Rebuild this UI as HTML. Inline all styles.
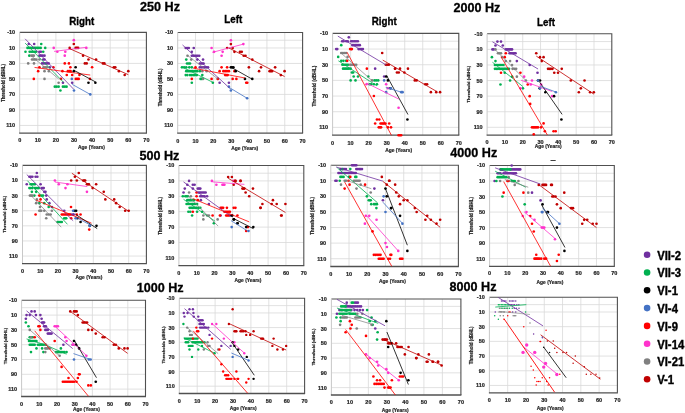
<!DOCTYPE html><html><head><meta charset="utf-8"><style>html,body{margin:0;padding:0;background:#fff;}svg{display:block;will-change:transform;font-family:"Liberation Sans",sans-serif;}</style></head><body>
<svg width="685" height="413" viewBox="0 0 685 413">
<rect width="685" height="413" fill="#fff"/>
<line x1="19.7" y1="40.15" x2="146.4" y2="40.15" stroke="#d9d9d9" stroke-width="0.8"/>
<line x1="19.7" y1="47.91" x2="146.4" y2="47.91" stroke="#d9d9d9" stroke-width="0.8"/>
<line x1="19.7" y1="63.42" x2="146.4" y2="63.42" stroke="#d9d9d9" stroke-width="0.8"/>
<line x1="19.7" y1="78.92" x2="146.4" y2="78.92" stroke="#d9d9d9" stroke-width="0.8"/>
<line x1="19.7" y1="94.43" x2="146.4" y2="94.43" stroke="#d9d9d9" stroke-width="0.8"/>
<line x1="19.7" y1="109.94" x2="146.4" y2="109.94" stroke="#d9d9d9" stroke-width="0.8"/>
<line x1="19.7" y1="125.45" x2="146.4" y2="125.45" stroke="#d9d9d9" stroke-width="0.8"/>
<line x1="37.8" y1="32.4" x2="37.8" y2="133.2" stroke="#d9d9d9" stroke-width="0.8"/>
<line x1="55.9" y1="32.4" x2="55.9" y2="133.2" stroke="#d9d9d9" stroke-width="0.8"/>
<line x1="74" y1="32.4" x2="74" y2="133.2" stroke="#d9d9d9" stroke-width="0.8"/>
<line x1="92.1" y1="32.4" x2="92.1" y2="133.2" stroke="#d9d9d9" stroke-width="0.8"/>
<line x1="110.2" y1="32.4" x2="110.2" y2="133.2" stroke="#d9d9d9" stroke-width="0.8"/>
<line x1="128.3" y1="32.4" x2="128.3" y2="133.2" stroke="#d9d9d9" stroke-width="0.8"/>
<path d="M19.7 32.4H146.4V133.2" fill="none" stroke="#505050" stroke-width="1.1"/>
<line x1="19.7" y1="32.4" x2="19.7" y2="133.2" stroke="#c8c8c8" stroke-width="1"/>
<line x1="19.2" y1="133.2" x2="146.9" y2="133.2" stroke="#505050" stroke-width="1.3"/>
<clipPath id="c1R"><rect x="19.7" y="32.4" width="126.7" height="100.8"/></clipPath>
<circle cx="28.75" cy="44.03" r="1.32" fill="#7030A0"/>
<circle cx="34.18" cy="44.03" r="1.32" fill="#7030A0"/>
<circle cx="39.43" cy="51.78" r="1.32" fill="#7030A0"/>
<circle cx="40.88" cy="51.78" r="1.32" fill="#7030A0"/>
<circle cx="39.43" cy="55.66" r="1.32" fill="#7030A0"/>
<circle cx="41.06" cy="55.66" r="1.32" fill="#7030A0"/>
<circle cx="42.69" cy="55.66" r="1.32" fill="#7030A0"/>
<circle cx="44.5" cy="55.66" r="1.32" fill="#7030A0"/>
<circle cx="43.23" cy="59.54" r="1.32" fill="#7030A0"/>
<circle cx="44.5" cy="59.54" r="1.32" fill="#7030A0"/>
<circle cx="42.14" cy="63.42" r="1.32" fill="#7030A0"/>
<circle cx="43.77" cy="63.42" r="1.32" fill="#7030A0"/>
<circle cx="45.4" cy="63.42" r="1.32" fill="#7030A0"/>
<circle cx="47.03" cy="63.42" r="1.32" fill="#7030A0"/>
<circle cx="48.66" cy="63.42" r="1.32" fill="#7030A0"/>
<circle cx="49.75" cy="67.29" r="1.32" fill="#7030A0"/>
<circle cx="62.96" cy="82.8" r="1.32" fill="#7030A0"/>
<circle cx="72.19" cy="82.8" r="1.32" fill="#7030A0"/>
<circle cx="41.24" cy="44.03" r="1.32" fill="#00B050"/>
<circle cx="27.48" cy="47.91" r="1.32" fill="#00B050"/>
<circle cx="29.11" cy="47.91" r="1.32" fill="#00B050"/>
<circle cx="30.74" cy="47.91" r="1.32" fill="#00B050"/>
<circle cx="32.37" cy="47.91" r="1.32" fill="#00B050"/>
<circle cx="34" cy="47.91" r="1.32" fill="#00B050"/>
<circle cx="35.63" cy="47.91" r="1.32" fill="#00B050"/>
<circle cx="37.26" cy="47.91" r="1.32" fill="#00B050"/>
<circle cx="38.89" cy="47.91" r="1.32" fill="#00B050"/>
<circle cx="40.7" cy="47.91" r="1.32" fill="#00B050"/>
<circle cx="45.22" cy="47.91" r="1.32" fill="#00B050"/>
<circle cx="25.49" cy="51.78" r="1.32" fill="#00B050"/>
<circle cx="29.66" cy="51.78" r="1.32" fill="#00B050"/>
<circle cx="31.28" cy="51.78" r="1.32" fill="#00B050"/>
<circle cx="32.91" cy="51.78" r="1.32" fill="#00B050"/>
<circle cx="34.54" cy="51.78" r="1.32" fill="#00B050"/>
<circle cx="35.99" cy="51.78" r="1.32" fill="#00B050"/>
<circle cx="43.23" cy="51.78" r="1.32" fill="#00B050"/>
<circle cx="29.29" cy="55.66" r="1.32" fill="#00B050"/>
<circle cx="54.81" cy="86.68" r="1.32" fill="#00B050"/>
<circle cx="56.62" cy="86.68" r="1.32" fill="#00B050"/>
<circle cx="58.61" cy="86.68" r="1.32" fill="#00B050"/>
<circle cx="62.96" cy="86.68" r="1.32" fill="#00B050"/>
<circle cx="64.77" cy="86.68" r="1.32" fill="#00B050"/>
<circle cx="66.58" cy="86.68" r="1.32" fill="#00B050"/>
<circle cx="60.42" cy="90.55" r="1.32" fill="#00B050"/>
<circle cx="31.46" cy="55.66" r="1.32" fill="#808080"/>
<circle cx="32.73" cy="55.66" r="1.32" fill="#808080"/>
<circle cx="33.82" cy="55.66" r="1.32" fill="#808080"/>
<circle cx="32.01" cy="59.54" r="1.32" fill="#808080"/>
<circle cx="33.46" cy="59.54" r="1.32" fill="#808080"/>
<circle cx="34.9" cy="59.54" r="1.32" fill="#808080"/>
<circle cx="36.35" cy="59.54" r="1.32" fill="#808080"/>
<circle cx="39.43" cy="59.54" r="1.32" fill="#808080"/>
<circle cx="28.21" cy="63.42" r="1.32" fill="#808080"/>
<circle cx="34" cy="63.42" r="1.32" fill="#808080"/>
<circle cx="43.59" cy="67.29" r="1.32" fill="#808080"/>
<circle cx="45.22" cy="67.29" r="1.32" fill="#808080"/>
<circle cx="46.85" cy="67.29" r="1.32" fill="#808080"/>
<circle cx="44.5" cy="71.17" r="1.32" fill="#808080"/>
<circle cx="48.84" cy="71.17" r="1.32" fill="#808080"/>
<circle cx="44.5" cy="78.92" r="1.32" fill="#808080"/>
<circle cx="58.61" cy="82.8" r="1.32" fill="#808080"/>
<circle cx="73.82" cy="40.15" r="1.32" fill="#FF33CC"/>
<circle cx="53.73" cy="47.91" r="1.32" fill="#FF33CC"/>
<circle cx="86.31" cy="47.91" r="1.32" fill="#FF33CC"/>
<circle cx="57.35" cy="51.78" r="1.32" fill="#FF33CC"/>
<circle cx="65.31" cy="51.78" r="1.32" fill="#FF33CC"/>
<circle cx="64.77" cy="55.66" r="1.32" fill="#FF33CC"/>
<circle cx="73.82" cy="44.03" r="1.32" fill="#C00000"/>
<circle cx="69.66" cy="47.91" r="1.32" fill="#C00000"/>
<circle cx="75.63" cy="47.91" r="1.32" fill="#C00000"/>
<circle cx="76.9" cy="47.91" r="1.32" fill="#C00000"/>
<circle cx="78.16" cy="47.91" r="1.32" fill="#C00000"/>
<circle cx="83.05" cy="55.66" r="1.32" fill="#C00000"/>
<circle cx="88.48" cy="59.54" r="1.32" fill="#C00000"/>
<circle cx="96.08" cy="59.54" r="1.32" fill="#C00000"/>
<circle cx="84.86" cy="63.42" r="1.32" fill="#C00000"/>
<circle cx="86.67" cy="63.42" r="1.32" fill="#C00000"/>
<circle cx="102.96" cy="63.42" r="1.32" fill="#C00000"/>
<circle cx="104.41" cy="63.42" r="1.32" fill="#C00000"/>
<circle cx="113.82" cy="67.29" r="1.32" fill="#C00000"/>
<circle cx="115.27" cy="67.29" r="1.32" fill="#C00000"/>
<circle cx="118.89" cy="71.17" r="1.32" fill="#C00000"/>
<circle cx="128.3" cy="71.17" r="1.32" fill="#C00000"/>
<circle cx="124.68" cy="75.05" r="1.32" fill="#C00000"/>
<circle cx="64.77" cy="63.42" r="1.32" fill="#FF0000"/>
<circle cx="68.93" cy="63.42" r="1.32" fill="#FF0000"/>
<circle cx="39.43" cy="67.29" r="1.32" fill="#FF0000"/>
<circle cx="53.37" cy="67.29" r="1.32" fill="#FF0000"/>
<circle cx="70.38" cy="67.29" r="1.32" fill="#FF0000"/>
<circle cx="92.1" cy="67.29" r="1.32" fill="#FF0000"/>
<circle cx="38.16" cy="71.17" r="1.32" fill="#FF0000"/>
<circle cx="62.42" cy="71.17" r="1.32" fill="#FF0000"/>
<circle cx="67.85" cy="71.17" r="1.32" fill="#FF0000"/>
<circle cx="69.29" cy="71.17" r="1.32" fill="#FF0000"/>
<circle cx="70.56" cy="71.17" r="1.32" fill="#FF0000"/>
<circle cx="66.76" cy="75.05" r="1.32" fill="#FF0000"/>
<circle cx="72.19" cy="75.05" r="1.32" fill="#FF0000"/>
<circle cx="79.43" cy="75.05" r="1.32" fill="#FF0000"/>
<circle cx="33.82" cy="78.92" r="1.32" fill="#FF0000"/>
<circle cx="60.97" cy="78.92" r="1.32" fill="#FF0000"/>
<circle cx="75.81" cy="78.92" r="1.32" fill="#FF0000"/>
<circle cx="77.26" cy="78.92" r="1.32" fill="#FF0000"/>
<circle cx="78.71" cy="78.92" r="1.32" fill="#FF0000"/>
<circle cx="89.93" cy="78.92" r="1.32" fill="#FF0000"/>
<circle cx="75.63" cy="67.29" r="1.32" fill="#000000"/>
<circle cx="73.82" cy="71.17" r="1.32" fill="#000000"/>
<circle cx="88.48" cy="82.8" r="1.32" fill="#000000"/>
<circle cx="95.36" cy="82.8" r="1.32" fill="#000000"/>
<circle cx="71.83" cy="78.92" r="1.32" fill="#4472C4"/>
<circle cx="74" cy="90.55" r="1.32" fill="#4472C4"/>
<circle cx="90.29" cy="94.43" r="1.32" fill="#4472C4"/>
<g clip-path="url(#c1R)">
<line x1="25.13" y1="38.84" x2="73.46" y2="89" stroke="#7030A0" stroke-width="0.8"/>
<line x1="25.13" y1="43.1" x2="63.5" y2="82.26" stroke="#00B050" stroke-width="0.8"/>
<line x1="29.66" y1="54.5" x2="58.61" y2="78.92" stroke="#808080" stroke-width="0.7"/>
<line x1="54.09" y1="51.4" x2="86.67" y2="47.29" stroke="#FF33CC" stroke-width="0.8"/>
<line x1="69.66" y1="48.68" x2="128.3" y2="74.66" stroke="#C00000" stroke-width="0.8"/>
<line x1="34.54" y1="67.45" x2="90.29" y2="75.05" stroke="#FF0000" stroke-width="0.8"/>
<line x1="73.82" y1="70.24" x2="95.72" y2="82.02" stroke="#000000" stroke-width="0.8"/>
<line x1="72.19" y1="84.35" x2="90.29" y2="94.43" stroke="#4472C4" stroke-width="0.8"/>
</g>
<text x="15.1" y="34.38" font-size="5.5" font-weight="bold" fill="#262626" stroke="#262626" stroke-width="0.22" text-anchor="end">-10</text>
<text x="15.1" y="49.89" font-size="5.5" font-weight="bold" fill="#262626" stroke="#262626" stroke-width="0.22" text-anchor="end">10</text>
<text x="15.1" y="65.4" font-size="5.5" font-weight="bold" fill="#262626" stroke="#262626" stroke-width="0.22" text-anchor="end">30</text>
<text x="15.1" y="80.9" font-size="5.5" font-weight="bold" fill="#262626" stroke="#262626" stroke-width="0.22" text-anchor="end">50</text>
<text x="15.1" y="96.41" font-size="5.5" font-weight="bold" fill="#262626" stroke="#262626" stroke-width="0.22" text-anchor="end">70</text>
<text x="15.1" y="111.92" font-size="5.5" font-weight="bold" fill="#262626" stroke="#262626" stroke-width="0.22" text-anchor="end">90</text>
<text x="15.1" y="127.43" font-size="5.5" font-weight="bold" fill="#262626" stroke="#262626" stroke-width="0.22" text-anchor="end">110</text>
<text x="19.7" y="142.28" font-size="5.5" font-weight="bold" fill="#262626" stroke="#262626" stroke-width="0.22" text-anchor="middle">0</text>
<text x="37.8" y="142.28" font-size="5.5" font-weight="bold" fill="#262626" stroke="#262626" stroke-width="0.22" text-anchor="middle">10</text>
<text x="55.9" y="142.28" font-size="5.5" font-weight="bold" fill="#262626" stroke="#262626" stroke-width="0.22" text-anchor="middle">20</text>
<text x="74" y="142.28" font-size="5.5" font-weight="bold" fill="#262626" stroke="#262626" stroke-width="0.22" text-anchor="middle">30</text>
<text x="92.1" y="142.28" font-size="5.5" font-weight="bold" fill="#262626" stroke="#262626" stroke-width="0.22" text-anchor="middle">40</text>
<text x="110.2" y="142.28" font-size="5.5" font-weight="bold" fill="#262626" stroke="#262626" stroke-width="0.22" text-anchor="middle">50</text>
<text x="128.3" y="142.28" font-size="5.5" font-weight="bold" fill="#262626" stroke="#262626" stroke-width="0.22" text-anchor="middle">60</text>
<text x="146.4" y="142.28" font-size="5.5" font-weight="bold" fill="#262626" stroke="#262626" stroke-width="0.22" text-anchor="middle">70</text>
<text x="91.5" y="149.15" font-size="4.9" font-weight="bold" fill="#262626" stroke="#262626" stroke-width="0.2" text-anchor="middle">Age (Years)</text>
<text transform="translate(4.52 83.1) rotate(-90)" font-size="4.5" font-weight="bold" fill="#262626" stroke="#262626" stroke-width="0.2" text-anchor="middle">Threshold (dBHL)</text>
<line x1="177.7" y1="40.24" x2="302.6" y2="40.24" stroke="#d9d9d9" stroke-width="0.8"/>
<line x1="177.7" y1="47.98" x2="302.6" y2="47.98" stroke="#d9d9d9" stroke-width="0.8"/>
<line x1="177.7" y1="63.45" x2="302.6" y2="63.45" stroke="#d9d9d9" stroke-width="0.8"/>
<line x1="177.7" y1="78.93" x2="302.6" y2="78.93" stroke="#d9d9d9" stroke-width="0.8"/>
<line x1="177.7" y1="94.41" x2="302.6" y2="94.41" stroke="#d9d9d9" stroke-width="0.8"/>
<line x1="177.7" y1="109.88" x2="302.6" y2="109.88" stroke="#d9d9d9" stroke-width="0.8"/>
<line x1="177.7" y1="125.36" x2="302.6" y2="125.36" stroke="#d9d9d9" stroke-width="0.8"/>
<line x1="195.54" y1="32.5" x2="195.54" y2="133.1" stroke="#d9d9d9" stroke-width="0.8"/>
<line x1="213.39" y1="32.5" x2="213.39" y2="133.1" stroke="#d9d9d9" stroke-width="0.8"/>
<line x1="231.23" y1="32.5" x2="231.23" y2="133.1" stroke="#d9d9d9" stroke-width="0.8"/>
<line x1="249.07" y1="32.5" x2="249.07" y2="133.1" stroke="#d9d9d9" stroke-width="0.8"/>
<line x1="266.91" y1="32.5" x2="266.91" y2="133.1" stroke="#d9d9d9" stroke-width="0.8"/>
<line x1="284.76" y1="32.5" x2="284.76" y2="133.1" stroke="#d9d9d9" stroke-width="0.8"/>
<path d="M177.7 32.5H302.6V133.1" fill="none" stroke="#505050" stroke-width="1.1"/>
<line x1="177.7" y1="32.5" x2="177.7" y2="133.1" stroke="#c8c8c8" stroke-width="1"/>
<line x1="177.2" y1="133.1" x2="303.1" y2="133.1" stroke="#505050" stroke-width="1.3"/>
<clipPath id="c1L"><rect x="177.7" y="32.5" width="124.9" height="100.6"/></clipPath>
<circle cx="185.73" cy="47.98" r="1.32" fill="#7030A0"/>
<circle cx="187.16" cy="47.98" r="1.32" fill="#7030A0"/>
<circle cx="188.76" cy="47.98" r="1.32" fill="#7030A0"/>
<circle cx="193.76" cy="47.98" r="1.32" fill="#7030A0"/>
<circle cx="191.8" cy="51.85" r="1.32" fill="#7030A0"/>
<circle cx="191.8" cy="55.72" r="1.32" fill="#7030A0"/>
<circle cx="193.4" cy="55.72" r="1.32" fill="#7030A0"/>
<circle cx="194.83" cy="55.72" r="1.32" fill="#7030A0"/>
<circle cx="196.26" cy="55.72" r="1.32" fill="#7030A0"/>
<circle cx="197.68" cy="55.72" r="1.32" fill="#7030A0"/>
<circle cx="199.29" cy="55.72" r="1.32" fill="#7030A0"/>
<circle cx="197.33" cy="59.58" r="1.32" fill="#7030A0"/>
<circle cx="203.04" cy="59.58" r="1.32" fill="#7030A0"/>
<circle cx="199.83" cy="63.45" r="1.32" fill="#7030A0"/>
<circle cx="201.25" cy="63.45" r="1.32" fill="#7030A0"/>
<circle cx="202.68" cy="63.45" r="1.32" fill="#7030A0"/>
<circle cx="203.57" cy="63.45" r="1.32" fill="#7030A0"/>
<circle cx="199.83" cy="67.32" r="1.32" fill="#7030A0"/>
<circle cx="201.43" cy="67.32" r="1.32" fill="#7030A0"/>
<circle cx="203.04" cy="67.32" r="1.32" fill="#7030A0"/>
<circle cx="204.64" cy="67.32" r="1.32" fill="#7030A0"/>
<circle cx="206.25" cy="67.32" r="1.32" fill="#7030A0"/>
<circle cx="208.03" cy="67.32" r="1.32" fill="#7030A0"/>
<circle cx="219.63" cy="82.8" r="1.32" fill="#7030A0"/>
<circle cx="228.91" cy="82.8" r="1.32" fill="#7030A0"/>
<circle cx="186.26" cy="59.58" r="1.32" fill="#00B050"/>
<circle cx="186.98" cy="63.45" r="1.32" fill="#00B050"/>
<circle cx="188.58" cy="63.45" r="1.32" fill="#00B050"/>
<circle cx="190.01" cy="63.45" r="1.32" fill="#00B050"/>
<circle cx="181.98" cy="67.32" r="1.32" fill="#00B050"/>
<circle cx="184.12" cy="67.32" r="1.32" fill="#00B050"/>
<circle cx="186.26" cy="67.32" r="1.32" fill="#00B050"/>
<circle cx="189.3" cy="67.32" r="1.32" fill="#00B050"/>
<circle cx="191.8" cy="67.32" r="1.32" fill="#00B050"/>
<circle cx="186.26" cy="71.19" r="1.32" fill="#00B050"/>
<circle cx="187.87" cy="71.19" r="1.32" fill="#00B050"/>
<circle cx="189.48" cy="71.19" r="1.32" fill="#00B050"/>
<circle cx="191.08" cy="71.19" r="1.32" fill="#00B050"/>
<circle cx="192.69" cy="71.19" r="1.32" fill="#00B050"/>
<circle cx="194.29" cy="71.19" r="1.32" fill="#00B050"/>
<circle cx="195.9" cy="71.19" r="1.32" fill="#00B050"/>
<circle cx="197.33" cy="71.19" r="1.32" fill="#00B050"/>
<circle cx="199.83" cy="71.19" r="1.32" fill="#00B050"/>
<circle cx="185.73" cy="75.06" r="1.32" fill="#00B050"/>
<circle cx="187.34" cy="75.06" r="1.32" fill="#00B050"/>
<circle cx="190.01" cy="75.06" r="1.32" fill="#00B050"/>
<circle cx="191.62" cy="75.06" r="1.32" fill="#00B050"/>
<circle cx="193.22" cy="75.06" r="1.32" fill="#00B050"/>
<circle cx="194.83" cy="75.06" r="1.32" fill="#00B050"/>
<circle cx="196.79" cy="75.06" r="1.32" fill="#00B050"/>
<circle cx="202.32" cy="75.06" r="1.32" fill="#00B050"/>
<circle cx="200.54" cy="78.93" r="1.32" fill="#00B050"/>
<circle cx="201.79" cy="78.93" r="1.32" fill="#00B050"/>
<circle cx="191.8" cy="82.8" r="1.32" fill="#00B050"/>
<circle cx="212.85" cy="82.8" r="1.32" fill="#00B050"/>
<circle cx="187.51" cy="55.72" r="1.32" fill="#808080"/>
<circle cx="191.26" cy="59.58" r="1.32" fill="#808080"/>
<circle cx="202.32" cy="71.19" r="1.32" fill="#808080"/>
<circle cx="206.61" cy="71.19" r="1.32" fill="#808080"/>
<circle cx="203.04" cy="78.93" r="1.32" fill="#808080"/>
<circle cx="217.85" cy="78.93" r="1.32" fill="#808080"/>
<circle cx="230.87" cy="40.24" r="1.32" fill="#FF33CC"/>
<circle cx="211.6" cy="47.98" r="1.32" fill="#FF33CC"/>
<circle cx="214.1" cy="51.85" r="1.32" fill="#FF33CC"/>
<circle cx="222.66" cy="51.85" r="1.32" fill="#FF33CC"/>
<circle cx="221.59" cy="55.72" r="1.32" fill="#FF33CC"/>
<circle cx="243.36" cy="44.11" r="1.32" fill="#FF33CC"/>
<circle cx="230.87" cy="44.11" r="1.32" fill="#C00000"/>
<circle cx="227.12" cy="47.98" r="1.32" fill="#C00000"/>
<circle cx="232.66" cy="47.98" r="1.32" fill="#C00000"/>
<circle cx="234.44" cy="51.85" r="1.32" fill="#C00000"/>
<circle cx="239.97" cy="51.85" r="1.32" fill="#C00000"/>
<circle cx="241.76" cy="51.85" r="1.32" fill="#C00000"/>
<circle cx="243.72" cy="55.72" r="1.32" fill="#C00000"/>
<circle cx="245.5" cy="55.72" r="1.32" fill="#C00000"/>
<circle cx="252.28" cy="59.58" r="1.32" fill="#C00000"/>
<circle cx="248.89" cy="67.32" r="1.32" fill="#C00000"/>
<circle cx="261.03" cy="67.32" r="1.32" fill="#C00000"/>
<circle cx="275.12" cy="67.32" r="1.32" fill="#C00000"/>
<circle cx="259.06" cy="71.19" r="1.32" fill="#C00000"/>
<circle cx="269.59" cy="71.19" r="1.32" fill="#C00000"/>
<circle cx="270.84" cy="71.19" r="1.32" fill="#C00000"/>
<circle cx="272.09" cy="71.19" r="1.32" fill="#C00000"/>
<circle cx="284.58" cy="71.19" r="1.32" fill="#C00000"/>
<circle cx="280.83" cy="75.06" r="1.32" fill="#C00000"/>
<circle cx="195.54" cy="67.32" r="1.32" fill="#FF0000"/>
<circle cx="221.59" cy="67.32" r="1.32" fill="#FF0000"/>
<circle cx="227.12" cy="67.32" r="1.32" fill="#FF0000"/>
<circle cx="219.63" cy="71.19" r="1.32" fill="#FF0000"/>
<circle cx="223.38" cy="71.19" r="1.32" fill="#FF0000"/>
<circle cx="225.16" cy="71.19" r="1.32" fill="#FF0000"/>
<circle cx="226.95" cy="71.19" r="1.32" fill="#FF0000"/>
<circle cx="228.91" cy="71.19" r="1.32" fill="#FF0000"/>
<circle cx="234.44" cy="71.19" r="1.32" fill="#FF0000"/>
<circle cx="225.16" cy="75.06" r="1.32" fill="#FF0000"/>
<circle cx="226.41" cy="75.06" r="1.32" fill="#FF0000"/>
<circle cx="227.66" cy="75.06" r="1.32" fill="#FF0000"/>
<circle cx="191.8" cy="78.93" r="1.32" fill="#FF0000"/>
<circle cx="211.6" cy="78.93" r="1.32" fill="#FF0000"/>
<circle cx="217.85" cy="78.93" r="1.32" fill="#FF0000"/>
<circle cx="232.66" cy="78.93" r="1.32" fill="#FF0000"/>
<circle cx="236.4" cy="78.93" r="1.32" fill="#FF0000"/>
<circle cx="246.22" cy="82.8" r="1.32" fill="#FF0000"/>
<circle cx="247.29" cy="82.8" r="1.32" fill="#FF0000"/>
<circle cx="230.87" cy="67.32" r="1.32" fill="#000000"/>
<circle cx="232.12" cy="67.32" r="1.32" fill="#000000"/>
<circle cx="233.37" cy="67.32" r="1.32" fill="#000000"/>
<circle cx="235.69" cy="71.19" r="1.32" fill="#000000"/>
<circle cx="244.97" cy="78.93" r="1.32" fill="#000000"/>
<circle cx="252.28" cy="78.93" r="1.32" fill="#000000"/>
<circle cx="228.91" cy="86.67" r="1.32" fill="#4472C4"/>
<circle cx="230.87" cy="90.54" r="1.32" fill="#4472C4"/>
<circle cx="247.11" cy="98.28" r="1.32" fill="#4472C4"/>
<g clip-path="url(#c1L)">
<line x1="182.52" y1="44.96" x2="230.16" y2="88.6" stroke="#7030A0" stroke-width="0.8"/>
<line x1="181.98" y1="66.94" x2="212.85" y2="82.34" stroke="#00B050" stroke-width="0.8"/>
<line x1="186.98" y1="54.94" x2="217.85" y2="78.93" stroke="#808080" stroke-width="0.7"/>
<line x1="212.32" y1="52.39" x2="243.36" y2="44.11" stroke="#FF33CC" stroke-width="0.8"/>
<line x1="228.91" y1="47.98" x2="284.58" y2="76.53" stroke="#C00000" stroke-width="0.8"/>
<line x1="193.04" y1="68.1" x2="244.97" y2="78" stroke="#FF0000" stroke-width="0.8"/>
<line x1="231.23" y1="67.32" x2="253" y2="79.63" stroke="#000000" stroke-width="0.8"/>
<line x1="228.91" y1="87.29" x2="247.11" y2="98.28" stroke="#4472C4" stroke-width="0.8"/>
</g>
<text x="173.1" y="34.48" font-size="5.5" font-weight="bold" fill="#262626" stroke="#262626" stroke-width="0.22" text-anchor="end">-10</text>
<text x="173.1" y="49.96" font-size="5.5" font-weight="bold" fill="#262626" stroke="#262626" stroke-width="0.22" text-anchor="end">10</text>
<text x="173.1" y="65.43" font-size="5.5" font-weight="bold" fill="#262626" stroke="#262626" stroke-width="0.22" text-anchor="end">30</text>
<text x="173.1" y="80.91" font-size="5.5" font-weight="bold" fill="#262626" stroke="#262626" stroke-width="0.22" text-anchor="end">50</text>
<text x="173.1" y="96.39" font-size="5.5" font-weight="bold" fill="#262626" stroke="#262626" stroke-width="0.22" text-anchor="end">70</text>
<text x="173.1" y="111.86" font-size="5.5" font-weight="bold" fill="#262626" stroke="#262626" stroke-width="0.22" text-anchor="end">90</text>
<text x="173.1" y="127.34" font-size="5.5" font-weight="bold" fill="#262626" stroke="#262626" stroke-width="0.22" text-anchor="end">110</text>
<text x="177.7" y="142.58" font-size="5.5" font-weight="bold" fill="#262626" stroke="#262626" stroke-width="0.22" text-anchor="middle">0</text>
<text x="195.54" y="142.58" font-size="5.5" font-weight="bold" fill="#262626" stroke="#262626" stroke-width="0.22" text-anchor="middle">10</text>
<text x="213.39" y="142.58" font-size="5.5" font-weight="bold" fill="#262626" stroke="#262626" stroke-width="0.22" text-anchor="middle">20</text>
<text x="231.23" y="142.58" font-size="5.5" font-weight="bold" fill="#262626" stroke="#262626" stroke-width="0.22" text-anchor="middle">30</text>
<text x="249.07" y="142.58" font-size="5.5" font-weight="bold" fill="#262626" stroke="#262626" stroke-width="0.22" text-anchor="middle">40</text>
<text x="266.91" y="142.58" font-size="5.5" font-weight="bold" fill="#262626" stroke="#262626" stroke-width="0.22" text-anchor="middle">50</text>
<text x="284.76" y="142.58" font-size="5.5" font-weight="bold" fill="#262626" stroke="#262626" stroke-width="0.22" text-anchor="middle">60</text>
<text x="302.6" y="142.58" font-size="5.5" font-weight="bold" fill="#262626" stroke="#262626" stroke-width="0.22" text-anchor="middle">70</text>
<text x="244.8" y="150.15" font-size="4.9" font-weight="bold" fill="#262626" stroke="#262626" stroke-width="0.2" text-anchor="middle">Age (Years)</text>
<text transform="translate(161.62 87.4) rotate(-90)" font-size="4.49" font-weight="bold" fill="#262626" stroke="#262626" stroke-width="0.2" text-anchor="middle">Threshold (dBHL)</text>
<line x1="332.6" y1="41.23" x2="458.8" y2="41.23" stroke="#d9d9d9" stroke-width="0.8"/>
<line x1="332.6" y1="49.06" x2="458.8" y2="49.06" stroke="#d9d9d9" stroke-width="0.8"/>
<line x1="332.6" y1="64.72" x2="458.8" y2="64.72" stroke="#d9d9d9" stroke-width="0.8"/>
<line x1="332.6" y1="80.38" x2="458.8" y2="80.38" stroke="#d9d9d9" stroke-width="0.8"/>
<line x1="332.6" y1="96.05" x2="458.8" y2="96.05" stroke="#d9d9d9" stroke-width="0.8"/>
<line x1="332.6" y1="111.71" x2="458.8" y2="111.71" stroke="#d9d9d9" stroke-width="0.8"/>
<line x1="332.6" y1="127.37" x2="458.8" y2="127.37" stroke="#d9d9d9" stroke-width="0.8"/>
<line x1="350.63" y1="33.4" x2="350.63" y2="135.2" stroke="#d9d9d9" stroke-width="0.8"/>
<line x1="368.66" y1="33.4" x2="368.66" y2="135.2" stroke="#d9d9d9" stroke-width="0.8"/>
<line x1="386.69" y1="33.4" x2="386.69" y2="135.2" stroke="#d9d9d9" stroke-width="0.8"/>
<line x1="404.71" y1="33.4" x2="404.71" y2="135.2" stroke="#d9d9d9" stroke-width="0.8"/>
<line x1="422.74" y1="33.4" x2="422.74" y2="135.2" stroke="#d9d9d9" stroke-width="0.8"/>
<line x1="440.77" y1="33.4" x2="440.77" y2="135.2" stroke="#d9d9d9" stroke-width="0.8"/>
<path d="M332.6 33.4H458.8V135.2" fill="none" stroke="#505050" stroke-width="1.1"/>
<line x1="332.6" y1="33.4" x2="332.6" y2="135.2" stroke="#c8c8c8" stroke-width="1"/>
<line x1="332.1" y1="135.2" x2="459.3" y2="135.2" stroke="#505050" stroke-width="1.3"/>
<clipPath id="c2kR"><rect x="332.6" y="33.4" width="126.2" height="101.8"/></clipPath>
<circle cx="348.83" cy="37.32" r="1.32" fill="#7030A0"/>
<circle cx="342.16" cy="41.23" r="1.32" fill="#7030A0"/>
<circle cx="343.6" cy="41.23" r="1.32" fill="#7030A0"/>
<circle cx="346.3" cy="41.23" r="1.32" fill="#7030A0"/>
<circle cx="347.74" cy="41.23" r="1.32" fill="#7030A0"/>
<circle cx="351.17" cy="41.23" r="1.32" fill="#7030A0"/>
<circle cx="352.79" cy="41.23" r="1.32" fill="#7030A0"/>
<circle cx="354.41" cy="41.23" r="1.32" fill="#7030A0"/>
<circle cx="356.04" cy="41.23" r="1.32" fill="#7030A0"/>
<circle cx="357.84" cy="41.23" r="1.32" fill="#7030A0"/>
<circle cx="352.43" cy="45.15" r="1.32" fill="#7030A0"/>
<circle cx="353.87" cy="45.15" r="1.32" fill="#7030A0"/>
<circle cx="355.32" cy="45.15" r="1.32" fill="#7030A0"/>
<circle cx="356.76" cy="45.15" r="1.32" fill="#7030A0"/>
<circle cx="358.2" cy="45.15" r="1.32" fill="#7030A0"/>
<circle cx="359.82" cy="45.15" r="1.32" fill="#7030A0"/>
<circle cx="336.21" cy="49.06" r="1.32" fill="#7030A0"/>
<circle cx="337.29" cy="49.06" r="1.32" fill="#7030A0"/>
<circle cx="358.56" cy="49.06" r="1.32" fill="#7030A0"/>
<circle cx="360" cy="49.06" r="1.32" fill="#7030A0"/>
<circle cx="361.45" cy="49.06" r="1.32" fill="#7030A0"/>
<circle cx="362.89" cy="49.06" r="1.32" fill="#7030A0"/>
<circle cx="375.15" cy="68.64" r="1.32" fill="#7030A0"/>
<circle cx="384.16" cy="76.47" r="1.32" fill="#7030A0"/>
<circle cx="341.25" cy="45.15" r="1.32" fill="#00B050"/>
<circle cx="338.19" cy="56.89" r="1.32" fill="#00B050"/>
<circle cx="341.25" cy="60.81" r="1.32" fill="#00B050"/>
<circle cx="343.42" cy="60.81" r="1.32" fill="#00B050"/>
<circle cx="346.12" cy="60.81" r="1.32" fill="#00B050"/>
<circle cx="342.34" cy="64.72" r="1.32" fill="#00B050"/>
<circle cx="343.78" cy="64.72" r="1.32" fill="#00B050"/>
<circle cx="345.22" cy="64.72" r="1.32" fill="#00B050"/>
<circle cx="346.66" cy="64.72" r="1.32" fill="#00B050"/>
<circle cx="348.1" cy="64.72" r="1.32" fill="#00B050"/>
<circle cx="343.06" cy="68.64" r="1.32" fill="#00B050"/>
<circle cx="344.5" cy="68.64" r="1.32" fill="#00B050"/>
<circle cx="345.94" cy="68.64" r="1.32" fill="#00B050"/>
<circle cx="347.38" cy="68.64" r="1.32" fill="#00B050"/>
<circle cx="348.83" cy="68.64" r="1.32" fill="#00B050"/>
<circle cx="350.63" cy="68.64" r="1.32" fill="#00B050"/>
<circle cx="351.89" cy="72.55" r="1.32" fill="#00B050"/>
<circle cx="353.15" cy="72.55" r="1.32" fill="#00B050"/>
<circle cx="353.69" cy="76.47" r="1.32" fill="#00B050"/>
<circle cx="358.02" cy="76.47" r="1.32" fill="#00B050"/>
<circle cx="368.3" cy="76.47" r="1.32" fill="#00B050"/>
<circle cx="350.63" cy="80.38" r="1.32" fill="#00B050"/>
<circle cx="355.5" cy="80.38" r="1.32" fill="#00B050"/>
<circle cx="374.43" cy="80.38" r="1.32" fill="#00B050"/>
<circle cx="376.23" cy="80.38" r="1.32" fill="#00B050"/>
<circle cx="378.21" cy="80.38" r="1.32" fill="#00B050"/>
<circle cx="369.56" cy="84.3" r="1.32" fill="#00B050"/>
<circle cx="371.18" cy="84.3" r="1.32" fill="#00B050"/>
<circle cx="373.89" cy="84.3" r="1.32" fill="#00B050"/>
<circle cx="376.95" cy="84.3" r="1.32" fill="#00B050"/>
<circle cx="341.25" cy="52.98" r="1.32" fill="#808080"/>
<circle cx="342.88" cy="52.98" r="1.32" fill="#808080"/>
<circle cx="344.5" cy="52.98" r="1.32" fill="#808080"/>
<circle cx="346.12" cy="52.98" r="1.32" fill="#808080"/>
<circle cx="347.56" cy="56.89" r="1.32" fill="#808080"/>
<circle cx="350.09" cy="64.72" r="1.32" fill="#808080"/>
<circle cx="351.53" cy="64.72" r="1.32" fill="#808080"/>
<circle cx="352.97" cy="64.72" r="1.32" fill="#808080"/>
<circle cx="354.59" cy="64.72" r="1.32" fill="#808080"/>
<circle cx="356.22" cy="64.72" r="1.32" fill="#808080"/>
<circle cx="372.08" cy="80.38" r="1.32" fill="#808080"/>
<circle cx="350.09" cy="49.06" r="1.32" fill="#FF0000"/>
<circle cx="351.17" cy="49.06" r="1.32" fill="#FF0000"/>
<circle cx="351.89" cy="49.06" r="1.32" fill="#FF0000"/>
<circle cx="347.2" cy="60.81" r="1.32" fill="#FF0000"/>
<circle cx="366.85" cy="68.64" r="1.32" fill="#FF0000"/>
<circle cx="373.89" cy="96.05" r="1.32" fill="#FF0000"/>
<circle cx="376.95" cy="119.54" r="1.32" fill="#FF0000"/>
<circle cx="379.29" cy="119.54" r="1.32" fill="#FF0000"/>
<circle cx="375.15" cy="123.45" r="1.32" fill="#FF0000"/>
<circle cx="380.56" cy="123.45" r="1.32" fill="#FF0000"/>
<circle cx="381.82" cy="123.45" r="1.32" fill="#FF0000"/>
<circle cx="383.08" cy="123.45" r="1.32" fill="#FF0000"/>
<circle cx="384.16" cy="123.45" r="1.32" fill="#FF0000"/>
<circle cx="385.42" cy="123.45" r="1.32" fill="#FF0000"/>
<circle cx="389.21" cy="123.45" r="1.32" fill="#FF0000"/>
<circle cx="378.75" cy="127.37" r="1.32" fill="#FF0000"/>
<circle cx="380.02" cy="127.37" r="1.32" fill="#FF0000"/>
<circle cx="381.1" cy="127.37" r="1.32" fill="#FF0000"/>
<circle cx="387.95" cy="127.37" r="1.32" fill="#FF0000"/>
<circle cx="391.01" cy="127.37" r="1.32" fill="#FF0000"/>
<circle cx="398.58" cy="135.2" r="1.32" fill="#FF0000"/>
<circle cx="399.85" cy="135.2" r="1.32" fill="#FF0000"/>
<circle cx="401.11" cy="135.2" r="1.32" fill="#FF0000"/>
<circle cx="382.18" cy="52.98" r="1.32" fill="#C00000"/>
<circle cx="385.78" cy="64.72" r="1.32" fill="#C00000"/>
<circle cx="387.23" cy="64.72" r="1.32" fill="#C00000"/>
<circle cx="388.85" cy="64.72" r="1.32" fill="#C00000"/>
<circle cx="394.98" cy="68.64" r="1.32" fill="#C00000"/>
<circle cx="395.16" cy="68.64" r="1.32" fill="#C00000"/>
<circle cx="400.03" cy="68.64" r="1.32" fill="#C00000"/>
<circle cx="407.96" cy="68.64" r="1.32" fill="#C00000"/>
<circle cx="396.96" cy="72.55" r="1.32" fill="#C00000"/>
<circle cx="398.76" cy="72.55" r="1.32" fill="#C00000"/>
<circle cx="404.35" cy="72.55" r="1.32" fill="#C00000"/>
<circle cx="414.81" cy="80.38" r="1.32" fill="#C00000"/>
<circle cx="416.61" cy="80.38" r="1.32" fill="#C00000"/>
<circle cx="425.27" cy="84.3" r="1.32" fill="#C00000"/>
<circle cx="427.07" cy="84.3" r="1.32" fill="#C00000"/>
<circle cx="430.86" cy="92.13" r="1.32" fill="#C00000"/>
<circle cx="436.26" cy="92.13" r="1.32" fill="#C00000"/>
<circle cx="440.05" cy="92.13" r="1.32" fill="#C00000"/>
<circle cx="386.14" cy="76.47" r="1.32" fill="#000000"/>
<circle cx="387.95" cy="80.38" r="1.32" fill="#000000"/>
<circle cx="390.29" cy="88.22" r="1.32" fill="#000000"/>
<circle cx="407.42" cy="119.54" r="1.32" fill="#000000"/>
<circle cx="384.16" cy="80.38" r="1.32" fill="#4472C4"/>
<circle cx="390.83" cy="88.22" r="1.32" fill="#4472C4"/>
<circle cx="386.14" cy="92.13" r="1.32" fill="#4472C4"/>
<circle cx="401.29" cy="92.13" r="1.32" fill="#4472C4"/>
<circle cx="402.55" cy="92.13" r="1.32" fill="#4472C4"/>
<circle cx="366.49" cy="84.3" r="1.32" fill="#FF33CC"/>
<circle cx="386.14" cy="84.3" r="1.32" fill="#FF33CC"/>
<circle cx="387.95" cy="88.22" r="1.32" fill="#FF33CC"/>
<circle cx="398.58" cy="107.79" r="1.32" fill="#FF33CC"/>
<g clip-path="url(#c2kR)">
<line x1="337.83" y1="36.14" x2="386.14" y2="64.96" stroke="#7030A0" stroke-width="0.8"/>
<line x1="338.37" y1="60.81" x2="376.95" y2="85.87" stroke="#00B050" stroke-width="0.8"/>
<line x1="341.43" y1="53.37" x2="372.62" y2="81.17" stroke="#808080" stroke-width="0.7"/>
<line x1="366.49" y1="83.05" x2="398.76" y2="99.02" stroke="#FF33CC" stroke-width="0.8"/>
<line x1="382.72" y1="60.1" x2="436.99" y2="91.66" stroke="#C00000" stroke-width="0.8"/>
<line x1="347.02" y1="52.19" x2="393.9" y2="139.9" stroke="#FF0000" stroke-width="0.8"/>
<line x1="386.69" y1="75.69" x2="407.96" y2="114.53" stroke="#000000" stroke-width="0.8"/>
<line x1="385.78" y1="87.43" x2="402.55" y2="92.52" stroke="#4472C4" stroke-width="0.8"/>
</g>
<text x="328" y="35.38" font-size="5.5" font-weight="bold" fill="#262626" stroke="#262626" stroke-width="0.22" text-anchor="end">-10</text>
<text x="328" y="51.04" font-size="5.5" font-weight="bold" fill="#262626" stroke="#262626" stroke-width="0.22" text-anchor="end">10</text>
<text x="328" y="66.7" font-size="5.5" font-weight="bold" fill="#262626" stroke="#262626" stroke-width="0.22" text-anchor="end">30</text>
<text x="328" y="82.36" font-size="5.5" font-weight="bold" fill="#262626" stroke="#262626" stroke-width="0.22" text-anchor="end">50</text>
<text x="328" y="98.03" font-size="5.5" font-weight="bold" fill="#262626" stroke="#262626" stroke-width="0.22" text-anchor="end">70</text>
<text x="328" y="113.69" font-size="5.5" font-weight="bold" fill="#262626" stroke="#262626" stroke-width="0.22" text-anchor="end">90</text>
<text x="328" y="129.35" font-size="5.5" font-weight="bold" fill="#262626" stroke="#262626" stroke-width="0.22" text-anchor="end">110</text>
<text x="332.6" y="144.88" font-size="5.5" font-weight="bold" fill="#262626" stroke="#262626" stroke-width="0.22" text-anchor="middle">0</text>
<text x="350.63" y="144.88" font-size="5.5" font-weight="bold" fill="#262626" stroke="#262626" stroke-width="0.22" text-anchor="middle">10</text>
<text x="368.66" y="144.88" font-size="5.5" font-weight="bold" fill="#262626" stroke="#262626" stroke-width="0.22" text-anchor="middle">20</text>
<text x="386.69" y="144.88" font-size="5.5" font-weight="bold" fill="#262626" stroke="#262626" stroke-width="0.22" text-anchor="middle">30</text>
<text x="404.71" y="144.88" font-size="5.5" font-weight="bold" fill="#262626" stroke="#262626" stroke-width="0.22" text-anchor="middle">40</text>
<text x="422.74" y="144.88" font-size="5.5" font-weight="bold" fill="#262626" stroke="#262626" stroke-width="0.22" text-anchor="middle">50</text>
<text x="440.77" y="144.88" font-size="5.5" font-weight="bold" fill="#262626" stroke="#262626" stroke-width="0.22" text-anchor="middle">60</text>
<text x="458.8" y="144.88" font-size="5.5" font-weight="bold" fill="#262626" stroke="#262626" stroke-width="0.22" text-anchor="middle">70</text>
<text x="398.6" y="152.15" font-size="4.9" font-weight="bold" fill="#262626" stroke="#262626" stroke-width="0.2" text-anchor="middle">Age (Years)</text>
<text transform="translate(315.74 86) rotate(-90)" font-size="4.83" font-weight="bold" fill="#262626" stroke="#262626" stroke-width="0.2" text-anchor="middle">Threshold (dBHL)</text>
<line x1="487.1" y1="41.59" x2="611.8" y2="41.59" stroke="#d9d9d9" stroke-width="0.8"/>
<line x1="487.1" y1="49.38" x2="611.8" y2="49.38" stroke="#d9d9d9" stroke-width="0.8"/>
<line x1="487.1" y1="64.97" x2="611.8" y2="64.97" stroke="#d9d9d9" stroke-width="0.8"/>
<line x1="487.1" y1="80.55" x2="611.8" y2="80.55" stroke="#d9d9d9" stroke-width="0.8"/>
<line x1="487.1" y1="96.14" x2="611.8" y2="96.14" stroke="#d9d9d9" stroke-width="0.8"/>
<line x1="487.1" y1="111.72" x2="611.8" y2="111.72" stroke="#d9d9d9" stroke-width="0.8"/>
<line x1="487.1" y1="127.31" x2="611.8" y2="127.31" stroke="#d9d9d9" stroke-width="0.8"/>
<line x1="504.91" y1="33.8" x2="504.91" y2="135.1" stroke="#d9d9d9" stroke-width="0.8"/>
<line x1="522.73" y1="33.8" x2="522.73" y2="135.1" stroke="#d9d9d9" stroke-width="0.8"/>
<line x1="540.54" y1="33.8" x2="540.54" y2="135.1" stroke="#d9d9d9" stroke-width="0.8"/>
<line x1="558.36" y1="33.8" x2="558.36" y2="135.1" stroke="#d9d9d9" stroke-width="0.8"/>
<line x1="576.17" y1="33.8" x2="576.17" y2="135.1" stroke="#d9d9d9" stroke-width="0.8"/>
<line x1="593.99" y1="33.8" x2="593.99" y2="135.1" stroke="#d9d9d9" stroke-width="0.8"/>
<path d="M487.1 33.8H611.8V135.1" fill="none" stroke="#505050" stroke-width="1.1"/>
<line x1="487.1" y1="33.8" x2="487.1" y2="135.1" stroke="#c8c8c8" stroke-width="1"/>
<line x1="486.6" y1="135.1" x2="612.3" y2="135.1" stroke="#505050" stroke-width="1.3"/>
<clipPath id="c2kL"><rect x="487.1" y="33.8" width="124.7" height="101.3"/></clipPath>
<circle cx="497.43" cy="41.59" r="1.32" fill="#7030A0"/>
<circle cx="501" cy="41.59" r="1.32" fill="#7030A0"/>
<circle cx="495.47" cy="45.49" r="1.32" fill="#7030A0"/>
<circle cx="502.78" cy="45.49" r="1.32" fill="#7030A0"/>
<circle cx="492.44" cy="49.38" r="1.32" fill="#7030A0"/>
<circle cx="493.69" cy="49.38" r="1.32" fill="#7030A0"/>
<circle cx="505.81" cy="49.38" r="1.32" fill="#7030A0"/>
<circle cx="507.05" cy="49.38" r="1.32" fill="#7030A0"/>
<circle cx="508.3" cy="49.38" r="1.32" fill="#7030A0"/>
<circle cx="509.55" cy="49.38" r="1.32" fill="#7030A0"/>
<circle cx="510.79" cy="49.38" r="1.32" fill="#7030A0"/>
<circle cx="512.04" cy="49.38" r="1.32" fill="#7030A0"/>
<circle cx="509.55" cy="53.28" r="1.32" fill="#7030A0"/>
<circle cx="510.79" cy="53.28" r="1.32" fill="#7030A0"/>
<circle cx="512.04" cy="53.28" r="1.32" fill="#7030A0"/>
<circle cx="513.29" cy="53.28" r="1.32" fill="#7030A0"/>
<circle cx="514.53" cy="53.28" r="1.32" fill="#7030A0"/>
<circle cx="515.6" cy="53.28" r="1.32" fill="#7030A0"/>
<circle cx="516.85" cy="61.07" r="1.32" fill="#7030A0"/>
<circle cx="529.68" cy="64.97" r="1.32" fill="#7030A0"/>
<circle cx="537.51" cy="72.76" r="1.32" fill="#7030A0"/>
<circle cx="495.47" cy="49.38" r="1.32" fill="#808080"/>
<circle cx="497.97" cy="53.28" r="1.32" fill="#808080"/>
<circle cx="499.39" cy="53.28" r="1.32" fill="#808080"/>
<circle cx="501" cy="53.28" r="1.32" fill="#808080"/>
<circle cx="502.24" cy="57.18" r="1.32" fill="#808080"/>
<circle cx="505.81" cy="61.07" r="1.32" fill="#808080"/>
<circle cx="510.08" cy="61.07" r="1.32" fill="#808080"/>
<circle cx="512.04" cy="64.97" r="1.32" fill="#808080"/>
<circle cx="512.57" cy="68.87" r="1.32" fill="#808080"/>
<circle cx="514.36" cy="68.87" r="1.32" fill="#808080"/>
<circle cx="516.14" cy="68.87" r="1.32" fill="#808080"/>
<circle cx="516.85" cy="76.66" r="1.32" fill="#808080"/>
<circle cx="525.94" cy="80.55" r="1.32" fill="#808080"/>
<circle cx="505.81" cy="53.28" r="1.32" fill="#FF0000"/>
<circle cx="504.74" cy="57.18" r="1.32" fill="#FF0000"/>
<circle cx="501" cy="72.76" r="1.32" fill="#FF0000"/>
<circle cx="520.41" cy="72.76" r="1.32" fill="#FF0000"/>
<circle cx="527.72" cy="84.45" r="1.32" fill="#FF0000"/>
<circle cx="529.68" cy="96.14" r="1.32" fill="#FF0000"/>
<circle cx="530.21" cy="103.93" r="1.32" fill="#FF0000"/>
<circle cx="543.57" cy="123.41" r="1.32" fill="#FF0000"/>
<circle cx="531.99" cy="127.31" r="1.32" fill="#FF0000"/>
<circle cx="533.24" cy="127.31" r="1.32" fill="#FF0000"/>
<circle cx="534.31" cy="127.31" r="1.32" fill="#FF0000"/>
<circle cx="535.55" cy="127.31" r="1.32" fill="#FF0000"/>
<circle cx="536.8" cy="127.31" r="1.32" fill="#FF0000"/>
<circle cx="538.05" cy="127.31" r="1.32" fill="#FF0000"/>
<circle cx="541.08" cy="127.31" r="1.32" fill="#FF0000"/>
<circle cx="544.82" cy="131.2" r="1.32" fill="#FF0000"/>
<circle cx="553.55" cy="131.2" r="1.32" fill="#FF0000"/>
<circle cx="555.68" cy="131.2" r="1.32" fill="#FF0000"/>
<circle cx="533.77" cy="134.32" r="1.32" fill="#FF0000"/>
<circle cx="491.91" cy="57.18" r="1.32" fill="#00B050"/>
<circle cx="495.47" cy="61.07" r="1.32" fill="#00B050"/>
<circle cx="494.94" cy="64.97" r="1.32" fill="#00B050"/>
<circle cx="496.36" cy="64.97" r="1.32" fill="#00B050"/>
<circle cx="497.79" cy="64.97" r="1.32" fill="#00B050"/>
<circle cx="499.21" cy="64.97" r="1.32" fill="#00B050"/>
<circle cx="500.64" cy="64.97" r="1.32" fill="#00B050"/>
<circle cx="502.06" cy="64.97" r="1.32" fill="#00B050"/>
<circle cx="503.49" cy="64.97" r="1.32" fill="#00B050"/>
<circle cx="494.94" cy="68.87" r="1.32" fill="#00B050"/>
<circle cx="496.36" cy="68.87" r="1.32" fill="#00B050"/>
<circle cx="497.79" cy="68.87" r="1.32" fill="#00B050"/>
<circle cx="499.21" cy="68.87" r="1.32" fill="#00B050"/>
<circle cx="500.64" cy="68.87" r="1.32" fill="#00B050"/>
<circle cx="502.06" cy="68.87" r="1.32" fill="#00B050"/>
<circle cx="503.49" cy="68.87" r="1.32" fill="#00B050"/>
<circle cx="504.91" cy="68.87" r="1.32" fill="#00B050"/>
<circle cx="506.34" cy="68.87" r="1.32" fill="#00B050"/>
<circle cx="507.76" cy="68.87" r="1.32" fill="#00B050"/>
<circle cx="509.01" cy="68.87" r="1.32" fill="#00B050"/>
<circle cx="504.74" cy="72.76" r="1.32" fill="#00B050"/>
<circle cx="512.04" cy="76.66" r="1.32" fill="#00B050"/>
<circle cx="510.08" cy="80.55" r="1.32" fill="#00B050"/>
<circle cx="500.46" cy="84.45" r="1.32" fill="#00B050"/>
<circle cx="522.91" cy="88.35" r="1.32" fill="#00B050"/>
<circle cx="536.27" cy="53.28" r="1.32" fill="#C00000"/>
<circle cx="540.01" cy="57.18" r="1.32" fill="#C00000"/>
<circle cx="543.57" cy="57.18" r="1.32" fill="#C00000"/>
<circle cx="541.79" cy="61.07" r="1.32" fill="#C00000"/>
<circle cx="548.02" cy="68.87" r="1.32" fill="#C00000"/>
<circle cx="549.45" cy="68.87" r="1.32" fill="#C00000"/>
<circle cx="550.88" cy="68.87" r="1.32" fill="#C00000"/>
<circle cx="552.48" cy="68.87" r="1.32" fill="#C00000"/>
<circle cx="561.74" cy="68.87" r="1.32" fill="#C00000"/>
<circle cx="554.26" cy="72.76" r="1.32" fill="#C00000"/>
<circle cx="558" cy="72.76" r="1.32" fill="#C00000"/>
<circle cx="570.83" cy="80.55" r="1.32" fill="#C00000"/>
<circle cx="584.54" cy="80.55" r="1.32" fill="#C00000"/>
<circle cx="580.8" cy="88.35" r="1.32" fill="#C00000"/>
<circle cx="578.84" cy="92.24" r="1.32" fill="#C00000"/>
<circle cx="590.07" cy="92.24" r="1.32" fill="#C00000"/>
<circle cx="593.81" cy="92.24" r="1.32" fill="#C00000"/>
<circle cx="524.15" cy="76.66" r="1.32" fill="#FF33CC"/>
<circle cx="531.99" cy="80.55" r="1.32" fill="#FF33CC"/>
<circle cx="530.75" cy="84.45" r="1.32" fill="#FF33CC"/>
<circle cx="541.08" cy="84.45" r="1.32" fill="#FF33CC"/>
<circle cx="520.41" cy="88.35" r="1.32" fill="#FF33CC"/>
<circle cx="552.12" cy="96.14" r="1.32" fill="#FF33CC"/>
<circle cx="538.05" cy="80.55" r="1.32" fill="#000000"/>
<circle cx="540.01" cy="80.55" r="1.32" fill="#000000"/>
<circle cx="539.65" cy="88.35" r="1.32" fill="#000000"/>
<circle cx="545.35" cy="92.24" r="1.32" fill="#000000"/>
<circle cx="554.08" cy="96.14" r="1.32" fill="#000000"/>
<circle cx="561.39" cy="119.52" r="1.32" fill="#000000"/>
<circle cx="538.05" cy="80.55" r="1.32" fill="#4472C4"/>
<circle cx="540.01" cy="88.35" r="1.32" fill="#4472C4"/>
<circle cx="555.86" cy="92.24" r="1.32" fill="#4472C4"/>
<g clip-path="url(#c2kL)">
<line x1="492.44" y1="41.79" x2="538.05" y2="69.02" stroke="#7030A0" stroke-width="0.8"/>
<line x1="492.44" y1="62.24" x2="522.91" y2="86.55" stroke="#00B050" stroke-width="0.8"/>
<line x1="495.47" y1="50.01" x2="526.65" y2="81.26" stroke="#808080" stroke-width="0.7"/>
<line x1="521.13" y1="80.24" x2="552.12" y2="91.46" stroke="#FF33CC" stroke-width="0.8"/>
<line x1="536.27" y1="56.09" x2="593.81" y2="94.11" stroke="#C00000" stroke-width="0.8"/>
<line x1="501" y1="56.71" x2="547.67" y2="135.49" stroke="#FF0000" stroke-width="0.8"/>
<line x1="539.65" y1="82.11" x2="562.1" y2="114.37" stroke="#000000" stroke-width="0.8"/>
<line x1="539.65" y1="86.01" x2="555.86" y2="92.01" stroke="#4472C4" stroke-width="0.8"/>
</g>
<text x="482.5" y="35.78" font-size="5.5" font-weight="bold" fill="#262626" stroke="#262626" stroke-width="0.22" text-anchor="end">-10</text>
<text x="482.5" y="51.36" font-size="5.5" font-weight="bold" fill="#262626" stroke="#262626" stroke-width="0.22" text-anchor="end">10</text>
<text x="482.5" y="66.95" font-size="5.5" font-weight="bold" fill="#262626" stroke="#262626" stroke-width="0.22" text-anchor="end">30</text>
<text x="482.5" y="82.53" font-size="5.5" font-weight="bold" fill="#262626" stroke="#262626" stroke-width="0.22" text-anchor="end">50</text>
<text x="482.5" y="98.12" font-size="5.5" font-weight="bold" fill="#262626" stroke="#262626" stroke-width="0.22" text-anchor="end">70</text>
<text x="482.5" y="113.7" font-size="5.5" font-weight="bold" fill="#262626" stroke="#262626" stroke-width="0.22" text-anchor="end">90</text>
<text x="482.5" y="129.29" font-size="5.5" font-weight="bold" fill="#262626" stroke="#262626" stroke-width="0.22" text-anchor="end">110</text>
<text x="487.1" y="143.68" font-size="5.5" font-weight="bold" fill="#262626" stroke="#262626" stroke-width="0.22" text-anchor="middle">0</text>
<text x="504.91" y="143.68" font-size="5.5" font-weight="bold" fill="#262626" stroke="#262626" stroke-width="0.22" text-anchor="middle">10</text>
<text x="522.73" y="143.68" font-size="5.5" font-weight="bold" fill="#262626" stroke="#262626" stroke-width="0.22" text-anchor="middle">20</text>
<text x="540.54" y="143.68" font-size="5.5" font-weight="bold" fill="#262626" stroke="#262626" stroke-width="0.22" text-anchor="middle">30</text>
<text x="558.36" y="143.68" font-size="5.5" font-weight="bold" fill="#262626" stroke="#262626" stroke-width="0.22" text-anchor="middle">40</text>
<text x="576.17" y="143.68" font-size="5.5" font-weight="bold" fill="#262626" stroke="#262626" stroke-width="0.22" text-anchor="middle">50</text>
<text x="593.99" y="143.68" font-size="5.5" font-weight="bold" fill="#262626" stroke="#262626" stroke-width="0.22" text-anchor="middle">60</text>
<text x="611.8" y="143.68" font-size="5.5" font-weight="bold" fill="#262626" stroke="#262626" stroke-width="0.22" text-anchor="middle">70</text>
<text x="548.1" y="148.15" font-size="4.9" font-weight="bold" fill="#262626" stroke="#262626" stroke-width="0.2" text-anchor="middle">Age (Years)</text>
<text transform="translate(469.88 84.2) rotate(-90)" font-size="4.39" font-weight="bold" fill="#262626" stroke="#262626" stroke-width="0.2" text-anchor="middle">Threshold (dBHL)</text>
<line x1="22.5" y1="172.95" x2="146.4" y2="172.95" stroke="#d9d9d9" stroke-width="0.8"/>
<line x1="22.5" y1="180.51" x2="146.4" y2="180.51" stroke="#d9d9d9" stroke-width="0.8"/>
<line x1="22.5" y1="195.62" x2="146.4" y2="195.62" stroke="#d9d9d9" stroke-width="0.8"/>
<line x1="22.5" y1="210.72" x2="146.4" y2="210.72" stroke="#d9d9d9" stroke-width="0.8"/>
<line x1="22.5" y1="225.83" x2="146.4" y2="225.83" stroke="#d9d9d9" stroke-width="0.8"/>
<line x1="22.5" y1="240.94" x2="146.4" y2="240.94" stroke="#d9d9d9" stroke-width="0.8"/>
<line x1="22.5" y1="256.05" x2="146.4" y2="256.05" stroke="#d9d9d9" stroke-width="0.8"/>
<line x1="40.2" y1="165.4" x2="40.2" y2="263.6" stroke="#d9d9d9" stroke-width="0.8"/>
<line x1="57.9" y1="165.4" x2="57.9" y2="263.6" stroke="#d9d9d9" stroke-width="0.8"/>
<line x1="75.6" y1="165.4" x2="75.6" y2="263.6" stroke="#d9d9d9" stroke-width="0.8"/>
<line x1="93.3" y1="165.4" x2="93.3" y2="263.6" stroke="#d9d9d9" stroke-width="0.8"/>
<line x1="111" y1="165.4" x2="111" y2="263.6" stroke="#d9d9d9" stroke-width="0.8"/>
<line x1="128.7" y1="165.4" x2="128.7" y2="263.6" stroke="#d9d9d9" stroke-width="0.8"/>
<path d="M22.5 165.4H146.4V263.6" fill="none" stroke="#505050" stroke-width="1.1"/>
<line x1="22.5" y1="165.4" x2="22.5" y2="263.6" stroke="#c8c8c8" stroke-width="1"/>
<line x1="22" y1="263.6" x2="146.9" y2="263.6" stroke="#505050" stroke-width="1.3"/>
<clipPath id="c2R"><rect x="22.5" y="165.4" width="123.9" height="98.2"/></clipPath>
<circle cx="36.84" cy="172.95" r="1.32" fill="#7030A0"/>
<circle cx="29.4" cy="176.73" r="1.32" fill="#7030A0"/>
<circle cx="30.82" cy="176.73" r="1.32" fill="#7030A0"/>
<circle cx="32.41" cy="176.73" r="1.32" fill="#7030A0"/>
<circle cx="35.6" cy="176.73" r="1.32" fill="#7030A0"/>
<circle cx="37.37" cy="176.73" r="1.32" fill="#7030A0"/>
<circle cx="26.75" cy="184.28" r="1.32" fill="#7030A0"/>
<circle cx="40.55" cy="184.28" r="1.32" fill="#7030A0"/>
<circle cx="41.79" cy="188.06" r="1.32" fill="#7030A0"/>
<circle cx="42.86" cy="188.06" r="1.32" fill="#7030A0"/>
<circle cx="43.74" cy="188.06" r="1.32" fill="#7030A0"/>
<circle cx="44.27" cy="191.84" r="1.32" fill="#7030A0"/>
<circle cx="45.51" cy="191.84" r="1.32" fill="#7030A0"/>
<circle cx="46.22" cy="195.62" r="1.32" fill="#7030A0"/>
<circle cx="46.75" cy="199.39" r="1.32" fill="#7030A0"/>
<circle cx="49.4" cy="203.17" r="1.32" fill="#7030A0"/>
<circle cx="51.88" cy="206.95" r="1.32" fill="#7030A0"/>
<circle cx="64.27" cy="210.72" r="1.32" fill="#7030A0"/>
<circle cx="71.17" cy="214.5" r="1.32" fill="#7030A0"/>
<circle cx="73.12" cy="214.5" r="1.32" fill="#7030A0"/>
<circle cx="73.65" cy="214.5" r="1.32" fill="#7030A0"/>
<circle cx="30.64" cy="184.28" r="1.32" fill="#00B050"/>
<circle cx="32.06" cy="184.28" r="1.32" fill="#00B050"/>
<circle cx="33.47" cy="184.28" r="1.32" fill="#00B050"/>
<circle cx="34.89" cy="184.28" r="1.32" fill="#00B050"/>
<circle cx="29.4" cy="188.06" r="1.32" fill="#00B050"/>
<circle cx="30.82" cy="188.06" r="1.32" fill="#00B050"/>
<circle cx="32.41" cy="188.06" r="1.32" fill="#00B050"/>
<circle cx="34.89" cy="188.06" r="1.32" fill="#00B050"/>
<circle cx="36.13" cy="188.06" r="1.32" fill="#00B050"/>
<circle cx="37.55" cy="188.06" r="1.32" fill="#00B050"/>
<circle cx="38.78" cy="188.06" r="1.32" fill="#00B050"/>
<circle cx="31.88" cy="191.84" r="1.32" fill="#00B050"/>
<circle cx="36.13" cy="191.84" r="1.32" fill="#00B050"/>
<circle cx="34.36" cy="195.62" r="1.32" fill="#00B050"/>
<circle cx="41.26" cy="195.62" r="1.32" fill="#00B050"/>
<circle cx="43.03" cy="195.62" r="1.32" fill="#00B050"/>
<circle cx="39.31" cy="203.17" r="1.32" fill="#00B050"/>
<circle cx="44.27" cy="203.17" r="1.32" fill="#00B050"/>
<circle cx="48.7" cy="206.95" r="1.32" fill="#00B050"/>
<circle cx="64.27" cy="218.28" r="1.32" fill="#00B050"/>
<circle cx="65.33" cy="218.28" r="1.32" fill="#00B050"/>
<circle cx="66.22" cy="218.28" r="1.32" fill="#00B050"/>
<circle cx="57.55" cy="222.05" r="1.32" fill="#00B050"/>
<circle cx="58.96" cy="222.05" r="1.32" fill="#00B050"/>
<circle cx="60.38" cy="222.05" r="1.32" fill="#00B050"/>
<circle cx="61.79" cy="222.05" r="1.32" fill="#00B050"/>
<circle cx="29.93" cy="195.62" r="1.32" fill="#808080"/>
<circle cx="31.17" cy="195.62" r="1.32" fill="#808080"/>
<circle cx="32.41" cy="195.62" r="1.32" fill="#808080"/>
<circle cx="36.84" cy="199.39" r="1.32" fill="#808080"/>
<circle cx="36.13" cy="203.17" r="1.32" fill="#808080"/>
<circle cx="40.02" cy="206.95" r="1.32" fill="#808080"/>
<circle cx="39.31" cy="210.72" r="1.32" fill="#808080"/>
<circle cx="40.38" cy="210.72" r="1.32" fill="#808080"/>
<circle cx="41.26" cy="210.72" r="1.32" fill="#808080"/>
<circle cx="44.27" cy="210.72" r="1.32" fill="#808080"/>
<circle cx="51.88" cy="210.72" r="1.32" fill="#808080"/>
<circle cx="46.75" cy="214.5" r="1.32" fill="#808080"/>
<circle cx="48.7" cy="214.5" r="1.32" fill="#808080"/>
<circle cx="50.64" cy="214.5" r="1.32" fill="#808080"/>
<circle cx="46.22" cy="218.28" r="1.32" fill="#808080"/>
<circle cx="39.31" cy="195.62" r="1.32" fill="#FF0000"/>
<circle cx="40.55" cy="199.39" r="1.32" fill="#FF0000"/>
<circle cx="71" cy="206.95" r="1.32" fill="#FF0000"/>
<circle cx="35.6" cy="214.5" r="1.32" fill="#FF0000"/>
<circle cx="61.79" cy="214.5" r="1.32" fill="#FF0000"/>
<circle cx="63.21" cy="214.5" r="1.32" fill="#FF0000"/>
<circle cx="64.63" cy="214.5" r="1.32" fill="#FF0000"/>
<circle cx="66.04" cy="214.5" r="1.32" fill="#FF0000"/>
<circle cx="67.46" cy="214.5" r="1.32" fill="#FF0000"/>
<circle cx="68.7" cy="214.5" r="1.32" fill="#FF0000"/>
<circle cx="69.94" cy="214.5" r="1.32" fill="#FF0000"/>
<circle cx="76.84" cy="214.5" r="1.32" fill="#FF0000"/>
<circle cx="80.56" cy="214.5" r="1.32" fill="#FF0000"/>
<circle cx="71.17" cy="218.28" r="1.32" fill="#FF0000"/>
<circle cx="89.23" cy="229.61" r="1.32" fill="#FF0000"/>
<circle cx="54.89" cy="180.51" r="1.32" fill="#FF33CC"/>
<circle cx="58.79" cy="184.28" r="1.32" fill="#FF33CC"/>
<circle cx="67.46" cy="184.28" r="1.32" fill="#FF33CC"/>
<circle cx="65.51" cy="188.06" r="1.32" fill="#FF33CC"/>
<circle cx="86.93" cy="191.84" r="1.32" fill="#FF33CC"/>
<circle cx="78.79" cy="172.95" r="1.32" fill="#C00000"/>
<circle cx="74.89" cy="176.73" r="1.32" fill="#C00000"/>
<circle cx="71.17" cy="180.51" r="1.32" fill="#C00000"/>
<circle cx="76.84" cy="180.51" r="1.32" fill="#C00000"/>
<circle cx="83.21" cy="180.51" r="1.32" fill="#C00000"/>
<circle cx="84.27" cy="180.51" r="1.32" fill="#C00000"/>
<circle cx="85.16" cy="180.51" r="1.32" fill="#C00000"/>
<circle cx="86.93" cy="184.28" r="1.32" fill="#C00000"/>
<circle cx="87.99" cy="184.28" r="1.32" fill="#C00000"/>
<circle cx="88.88" cy="184.28" r="1.32" fill="#C00000"/>
<circle cx="96.13" cy="184.28" r="1.32" fill="#C00000"/>
<circle cx="92.59" cy="188.06" r="1.32" fill="#C00000"/>
<circle cx="103.74" cy="191.84" r="1.32" fill="#C00000"/>
<circle cx="105.34" cy="199.39" r="1.32" fill="#C00000"/>
<circle cx="114.19" cy="199.39" r="1.32" fill="#C00000"/>
<circle cx="116.13" cy="203.17" r="1.32" fill="#C00000"/>
<circle cx="119.67" cy="206.95" r="1.32" fill="#C00000"/>
<circle cx="125.16" cy="210.72" r="1.32" fill="#C00000"/>
<circle cx="128.7" cy="210.72" r="1.32" fill="#C00000"/>
<circle cx="74.36" cy="210.72" r="1.32" fill="#000000"/>
<circle cx="76.13" cy="210.72" r="1.32" fill="#000000"/>
<circle cx="77.37" cy="218.28" r="1.32" fill="#000000"/>
<circle cx="80.56" cy="222.05" r="1.32" fill="#000000"/>
<circle cx="89.76" cy="225.83" r="1.32" fill="#000000"/>
<circle cx="96.49" cy="225.83" r="1.32" fill="#000000"/>
<circle cx="73.12" cy="210.72" r="1.32" fill="#4472C4"/>
<circle cx="75.6" cy="218.28" r="1.32" fill="#4472C4"/>
<circle cx="89.76" cy="225.83" r="1.32" fill="#4472C4"/>
<g clip-path="url(#c2R)">
<line x1="26.75" y1="174.54" x2="73.12" y2="220.77" stroke="#7030A0" stroke-width="0.8"/>
<line x1="27.46" y1="180.73" x2="67.46" y2="224.32" stroke="#00B050" stroke-width="0.8"/>
<line x1="30.64" y1="195.09" x2="61.26" y2="227.19" stroke="#808080" stroke-width="0.7"/>
<line x1="54.89" y1="182.02" x2="87.28" y2="186.55" stroke="#FF33CC" stroke-width="0.8"/>
<line x1="71.88" y1="173.26" x2="128.7" y2="211.33" stroke="#C00000" stroke-width="0.8"/>
<line x1="36.13" y1="200.15" x2="91.53" y2="223.19" stroke="#FF0000" stroke-width="0.8"/>
<line x1="75.6" y1="214.35" x2="97.19" y2="228.63" stroke="#000000" stroke-width="0.8"/>
<line x1="75.6" y1="217.14" x2="91.53" y2="225.6" stroke="#4472C4" stroke-width="0.8"/>
</g>
<text x="17.9" y="167.38" font-size="5.5" font-weight="bold" fill="#262626" stroke="#262626" stroke-width="0.22" text-anchor="end">-10</text>
<text x="17.9" y="182.49" font-size="5.5" font-weight="bold" fill="#262626" stroke="#262626" stroke-width="0.22" text-anchor="end">10</text>
<text x="17.9" y="197.6" font-size="5.5" font-weight="bold" fill="#262626" stroke="#262626" stroke-width="0.22" text-anchor="end">30</text>
<text x="17.9" y="212.7" font-size="5.5" font-weight="bold" fill="#262626" stroke="#262626" stroke-width="0.22" text-anchor="end">50</text>
<text x="17.9" y="227.81" font-size="5.5" font-weight="bold" fill="#262626" stroke="#262626" stroke-width="0.22" text-anchor="end">70</text>
<text x="17.9" y="242.92" font-size="5.5" font-weight="bold" fill="#262626" stroke="#262626" stroke-width="0.22" text-anchor="end">90</text>
<text x="17.9" y="258.03" font-size="5.5" font-weight="bold" fill="#262626" stroke="#262626" stroke-width="0.22" text-anchor="end">110</text>
<text x="22.5" y="273.38" font-size="5.5" font-weight="bold" fill="#262626" stroke="#262626" stroke-width="0.22" text-anchor="middle">0</text>
<text x="40.2" y="273.38" font-size="5.5" font-weight="bold" fill="#262626" stroke="#262626" stroke-width="0.22" text-anchor="middle">10</text>
<text x="57.9" y="273.38" font-size="5.5" font-weight="bold" fill="#262626" stroke="#262626" stroke-width="0.22" text-anchor="middle">20</text>
<text x="75.6" y="273.38" font-size="5.5" font-weight="bold" fill="#262626" stroke="#262626" stroke-width="0.22" text-anchor="middle">30</text>
<text x="93.3" y="273.38" font-size="5.5" font-weight="bold" fill="#262626" stroke="#262626" stroke-width="0.22" text-anchor="middle">40</text>
<text x="111" y="273.38" font-size="5.5" font-weight="bold" fill="#262626" stroke="#262626" stroke-width="0.22" text-anchor="middle">50</text>
<text x="128.7" y="273.38" font-size="5.5" font-weight="bold" fill="#262626" stroke="#262626" stroke-width="0.22" text-anchor="middle">60</text>
<text x="146.4" y="273.38" font-size="5.5" font-weight="bold" fill="#262626" stroke="#262626" stroke-width="0.22" text-anchor="middle">70</text>
<text x="89" y="279.05" font-size="4.9" font-weight="bold" fill="#262626" stroke="#262626" stroke-width="0.2" text-anchor="middle">Age (Years)</text>
<text transform="translate(5.98 214.2) rotate(-90)" font-size="4.39" font-weight="bold" fill="#262626" stroke="#262626" stroke-width="0.2" text-anchor="middle">Threshold (dBHL)</text>
<line x1="178.9" y1="173.2" x2="303.8" y2="173.2" stroke="#d9d9d9" stroke-width="0.8"/>
<line x1="178.9" y1="180.9" x2="303.8" y2="180.9" stroke="#d9d9d9" stroke-width="0.8"/>
<line x1="178.9" y1="196.3" x2="303.8" y2="196.3" stroke="#d9d9d9" stroke-width="0.8"/>
<line x1="178.9" y1="211.7" x2="303.8" y2="211.7" stroke="#d9d9d9" stroke-width="0.8"/>
<line x1="178.9" y1="227.1" x2="303.8" y2="227.1" stroke="#d9d9d9" stroke-width="0.8"/>
<line x1="178.9" y1="242.5" x2="303.8" y2="242.5" stroke="#d9d9d9" stroke-width="0.8"/>
<line x1="178.9" y1="257.9" x2="303.8" y2="257.9" stroke="#d9d9d9" stroke-width="0.8"/>
<line x1="196.74" y1="165.5" x2="196.74" y2="265.6" stroke="#d9d9d9" stroke-width="0.8"/>
<line x1="214.59" y1="165.5" x2="214.59" y2="265.6" stroke="#d9d9d9" stroke-width="0.8"/>
<line x1="232.43" y1="165.5" x2="232.43" y2="265.6" stroke="#d9d9d9" stroke-width="0.8"/>
<line x1="250.27" y1="165.5" x2="250.27" y2="265.6" stroke="#d9d9d9" stroke-width="0.8"/>
<line x1="268.11" y1="165.5" x2="268.11" y2="265.6" stroke="#d9d9d9" stroke-width="0.8"/>
<line x1="285.96" y1="165.5" x2="285.96" y2="265.6" stroke="#d9d9d9" stroke-width="0.8"/>
<path d="M178.9 165.5H303.8V265.6" fill="none" stroke="#505050" stroke-width="1.1"/>
<line x1="178.9" y1="165.5" x2="178.9" y2="265.6" stroke="#c8c8c8" stroke-width="1"/>
<line x1="178.4" y1="265.6" x2="304.3" y2="265.6" stroke="#505050" stroke-width="1.3"/>
<clipPath id="c2L"><rect x="178.9" y="165.5" width="124.9" height="100.1"/></clipPath>
<circle cx="189.07" cy="180.9" r="1.32" fill="#7030A0"/>
<circle cx="187.29" cy="184.75" r="1.32" fill="#7030A0"/>
<circle cx="192.82" cy="184.75" r="1.32" fill="#7030A0"/>
<circle cx="194.6" cy="184.75" r="1.32" fill="#7030A0"/>
<circle cx="184.79" cy="188.6" r="1.32" fill="#7030A0"/>
<circle cx="192.82" cy="188.6" r="1.32" fill="#7030A0"/>
<circle cx="197.81" cy="188.6" r="1.32" fill="#7030A0"/>
<circle cx="199.06" cy="188.6" r="1.32" fill="#7030A0"/>
<circle cx="200.31" cy="188.6" r="1.32" fill="#7030A0"/>
<circle cx="183.54" cy="192.45" r="1.32" fill="#7030A0"/>
<circle cx="198.53" cy="192.45" r="1.32" fill="#7030A0"/>
<circle cx="199.95" cy="192.45" r="1.32" fill="#7030A0"/>
<circle cx="201.38" cy="192.45" r="1.32" fill="#7030A0"/>
<circle cx="202.81" cy="192.45" r="1.32" fill="#7030A0"/>
<circle cx="204.24" cy="192.45" r="1.32" fill="#7030A0"/>
<circle cx="205.66" cy="192.45" r="1.32" fill="#7030A0"/>
<circle cx="200.31" cy="196.3" r="1.32" fill="#7030A0"/>
<circle cx="201.74" cy="196.3" r="1.32" fill="#7030A0"/>
<circle cx="203.17" cy="196.3" r="1.32" fill="#7030A0"/>
<circle cx="204.59" cy="196.3" r="1.32" fill="#7030A0"/>
<circle cx="207.09" cy="196.3" r="1.32" fill="#7030A0"/>
<circle cx="200.85" cy="200.15" r="1.32" fill="#7030A0"/>
<circle cx="208.88" cy="204" r="1.32" fill="#7030A0"/>
<circle cx="220.65" cy="215.55" r="1.32" fill="#7030A0"/>
<circle cx="229.93" cy="215.55" r="1.32" fill="#7030A0"/>
<circle cx="189.07" cy="192.45" r="1.32" fill="#808080"/>
<circle cx="190.85" cy="196.3" r="1.32" fill="#808080"/>
<circle cx="192.1" cy="204" r="1.32" fill="#808080"/>
<circle cx="194.07" cy="204" r="1.32" fill="#808080"/>
<circle cx="203.34" cy="215.55" r="1.32" fill="#808080"/>
<circle cx="207.09" cy="215.55" r="1.32" fill="#808080"/>
<circle cx="208.88" cy="215.55" r="1.32" fill="#808080"/>
<circle cx="203.34" cy="219.4" r="1.32" fill="#808080"/>
<circle cx="217.62" cy="219.4" r="1.32" fill="#808080"/>
<circle cx="182.83" cy="196.3" r="1.32" fill="#00B050"/>
<circle cx="185.32" cy="196.3" r="1.32" fill="#00B050"/>
<circle cx="186.57" cy="196.3" r="1.32" fill="#00B050"/>
<circle cx="187.82" cy="196.3" r="1.32" fill="#00B050"/>
<circle cx="187.29" cy="200.15" r="1.32" fill="#00B050"/>
<circle cx="188.71" cy="200.15" r="1.32" fill="#00B050"/>
<circle cx="189.96" cy="200.15" r="1.32" fill="#00B050"/>
<circle cx="191.21" cy="200.15" r="1.32" fill="#00B050"/>
<circle cx="192.64" cy="200.15" r="1.32" fill="#00B050"/>
<circle cx="194.07" cy="200.15" r="1.32" fill="#00B050"/>
<circle cx="186.57" cy="204" r="1.32" fill="#00B050"/>
<circle cx="188" cy="204" r="1.32" fill="#00B050"/>
<circle cx="189.43" cy="204" r="1.32" fill="#00B050"/>
<circle cx="190.85" cy="204" r="1.32" fill="#00B050"/>
<circle cx="192.28" cy="204" r="1.32" fill="#00B050"/>
<circle cx="193.71" cy="204" r="1.32" fill="#00B050"/>
<circle cx="195.14" cy="204" r="1.32" fill="#00B050"/>
<circle cx="197.1" cy="204" r="1.32" fill="#00B050"/>
<circle cx="189.61" cy="207.85" r="1.32" fill="#00B050"/>
<circle cx="191.03" cy="207.85" r="1.32" fill="#00B050"/>
<circle cx="192.46" cy="207.85" r="1.32" fill="#00B050"/>
<circle cx="193.89" cy="207.85" r="1.32" fill="#00B050"/>
<circle cx="195.32" cy="207.85" r="1.32" fill="#00B050"/>
<circle cx="196.74" cy="207.85" r="1.32" fill="#00B050"/>
<circle cx="198.53" cy="207.85" r="1.32" fill="#00B050"/>
<circle cx="200.31" cy="207.85" r="1.32" fill="#00B050"/>
<circle cx="188.36" cy="211.7" r="1.32" fill="#00B050"/>
<circle cx="190.32" cy="211.7" r="1.32" fill="#00B050"/>
<circle cx="197.1" cy="211.7" r="1.32" fill="#00B050"/>
<circle cx="202.1" cy="211.7" r="1.32" fill="#00B050"/>
<circle cx="192.1" cy="215.55" r="1.32" fill="#00B050"/>
<circle cx="213.87" cy="223.25" r="1.32" fill="#00B050"/>
<circle cx="196.56" cy="192.45" r="1.32" fill="#FF0000"/>
<circle cx="196.56" cy="196.3" r="1.32" fill="#FF0000"/>
<circle cx="197.81" cy="200.15" r="1.32" fill="#FF0000"/>
<circle cx="220.65" cy="207.85" r="1.32" fill="#FF0000"/>
<circle cx="221.9" cy="207.85" r="1.32" fill="#FF0000"/>
<circle cx="223.15" cy="207.85" r="1.32" fill="#FF0000"/>
<circle cx="226.9" cy="207.85" r="1.32" fill="#FF0000"/>
<circle cx="233.68" cy="207.85" r="1.32" fill="#FF0000"/>
<circle cx="235.46" cy="207.85" r="1.32" fill="#FF0000"/>
<circle cx="192.82" cy="211.7" r="1.32" fill="#FF0000"/>
<circle cx="224.4" cy="211.7" r="1.32" fill="#FF0000"/>
<circle cx="225.83" cy="211.7" r="1.32" fill="#FF0000"/>
<circle cx="227.25" cy="211.7" r="1.32" fill="#FF0000"/>
<circle cx="228.68" cy="211.7" r="1.32" fill="#FF0000"/>
<circle cx="229.93" cy="211.7" r="1.32" fill="#FF0000"/>
<circle cx="212.62" cy="215.55" r="1.32" fill="#FF0000"/>
<circle cx="219.94" cy="215.55" r="1.32" fill="#FF0000"/>
<circle cx="226.18" cy="215.55" r="1.32" fill="#FF0000"/>
<circle cx="227.43" cy="215.55" r="1.32" fill="#FF0000"/>
<circle cx="228.68" cy="215.55" r="1.32" fill="#FF0000"/>
<circle cx="237.42" cy="215.55" r="1.32" fill="#FF0000"/>
<circle cx="247.95" cy="227.1" r="1.32" fill="#FF0000"/>
<circle cx="246.17" cy="230.95" r="1.32" fill="#FF0000"/>
<circle cx="211.91" cy="180.9" r="1.32" fill="#FF33CC"/>
<circle cx="233.68" cy="180.9" r="1.32" fill="#FF33CC"/>
<circle cx="216.37" cy="184.75" r="1.32" fill="#FF33CC"/>
<circle cx="222.44" cy="184.75" r="1.32" fill="#FF33CC"/>
<circle cx="223.51" cy="184.75" r="1.32" fill="#FF33CC"/>
<circle cx="224.4" cy="184.75" r="1.32" fill="#FF33CC"/>
<circle cx="228.15" cy="177.05" r="1.32" fill="#C00000"/>
<circle cx="231.89" cy="177.05" r="1.32" fill="#C00000"/>
<circle cx="234.93" cy="180.9" r="1.32" fill="#C00000"/>
<circle cx="235.64" cy="180.9" r="1.32" fill="#C00000"/>
<circle cx="240.46" cy="180.9" r="1.32" fill="#C00000"/>
<circle cx="240.64" cy="180.9" r="1.32" fill="#C00000"/>
<circle cx="233.68" cy="184.75" r="1.32" fill="#C00000"/>
<circle cx="242.42" cy="188.6" r="1.32" fill="#C00000"/>
<circle cx="243.49" cy="188.6" r="1.32" fill="#C00000"/>
<circle cx="244.38" cy="188.6" r="1.32" fill="#C00000"/>
<circle cx="252.95" cy="188.6" r="1.32" fill="#C00000"/>
<circle cx="245.63" cy="192.45" r="1.32" fill="#C00000"/>
<circle cx="249.2" cy="196.3" r="1.32" fill="#C00000"/>
<circle cx="272.93" cy="200.15" r="1.32" fill="#C00000"/>
<circle cx="262.4" cy="204" r="1.32" fill="#C00000"/>
<circle cx="271.68" cy="204" r="1.32" fill="#C00000"/>
<circle cx="276.68" cy="204" r="1.32" fill="#C00000"/>
<circle cx="285.42" cy="204" r="1.32" fill="#C00000"/>
<circle cx="260.44" cy="207.85" r="1.32" fill="#C00000"/>
<circle cx="260.62" cy="207.85" r="1.32" fill="#C00000"/>
<circle cx="281.14" cy="215.55" r="1.32" fill="#C00000"/>
<circle cx="281.67" cy="215.55" r="1.32" fill="#C00000"/>
<circle cx="231.71" cy="215.55" r="1.32" fill="#000000"/>
<circle cx="232.25" cy="215.55" r="1.32" fill="#000000"/>
<circle cx="233.68" cy="219.4" r="1.32" fill="#000000"/>
<circle cx="234.03" cy="219.4" r="1.32" fill="#000000"/>
<circle cx="237.42" cy="223.25" r="1.32" fill="#000000"/>
<circle cx="237.6" cy="223.25" r="1.32" fill="#000000"/>
<circle cx="246.17" cy="227.1" r="1.32" fill="#000000"/>
<circle cx="253.3" cy="227.1" r="1.32" fill="#000000"/>
<circle cx="231.71" cy="227.1" r="1.32" fill="#4472C4"/>
<circle cx="248.49" cy="230.95" r="1.32" fill="#4472C4"/>
<g clip-path="url(#c2L)">
<line x1="183.54" y1="181.9" x2="229.93" y2="215.55" stroke="#7030A0" stroke-width="0.8"/>
<line x1="183.54" y1="199.3" x2="215.12" y2="221.25" stroke="#00B050" stroke-width="0.8"/>
<line x1="187.82" y1="195.53" x2="218.15" y2="226.1" stroke="#808080" stroke-width="0.7"/>
<line x1="212.62" y1="181.9" x2="244.38" y2="184.37" stroke="#FF33CC" stroke-width="0.8"/>
<line x1="228.15" y1="178.21" x2="285.42" y2="212.47" stroke="#C00000" stroke-width="0.8"/>
<line x1="192.82" y1="198.61" x2="249.2" y2="221.86" stroke="#FF0000" stroke-width="0.8"/>
<line x1="232.79" y1="218.17" x2="253.3" y2="228.64" stroke="#000000" stroke-width="0.8"/>
<line x1="231" y1="220.63" x2="246.7" y2="230.41" stroke="#4472C4" stroke-width="0.8"/>
</g>
<text x="174.3" y="167.48" font-size="5.5" font-weight="bold" fill="#262626" stroke="#262626" stroke-width="0.22" text-anchor="end">-10</text>
<text x="174.3" y="182.88" font-size="5.5" font-weight="bold" fill="#262626" stroke="#262626" stroke-width="0.22" text-anchor="end">10</text>
<text x="174.3" y="198.28" font-size="5.5" font-weight="bold" fill="#262626" stroke="#262626" stroke-width="0.22" text-anchor="end">30</text>
<text x="174.3" y="213.68" font-size="5.5" font-weight="bold" fill="#262626" stroke="#262626" stroke-width="0.22" text-anchor="end">50</text>
<text x="174.3" y="229.08" font-size="5.5" font-weight="bold" fill="#262626" stroke="#262626" stroke-width="0.22" text-anchor="end">70</text>
<text x="174.3" y="244.48" font-size="5.5" font-weight="bold" fill="#262626" stroke="#262626" stroke-width="0.22" text-anchor="end">90</text>
<text x="174.3" y="259.88" font-size="5.5" font-weight="bold" fill="#262626" stroke="#262626" stroke-width="0.22" text-anchor="end">110</text>
<text x="178.9" y="274.68" font-size="5.5" font-weight="bold" fill="#262626" stroke="#262626" stroke-width="0.22" text-anchor="middle">0</text>
<text x="196.74" y="274.68" font-size="5.5" font-weight="bold" fill="#262626" stroke="#262626" stroke-width="0.22" text-anchor="middle">10</text>
<text x="214.59" y="274.68" font-size="5.5" font-weight="bold" fill="#262626" stroke="#262626" stroke-width="0.22" text-anchor="middle">20</text>
<text x="232.43" y="274.68" font-size="5.5" font-weight="bold" fill="#262626" stroke="#262626" stroke-width="0.22" text-anchor="middle">30</text>
<text x="250.27" y="274.68" font-size="5.5" font-weight="bold" fill="#262626" stroke="#262626" stroke-width="0.22" text-anchor="middle">40</text>
<text x="268.11" y="274.68" font-size="5.5" font-weight="bold" fill="#262626" stroke="#262626" stroke-width="0.22" text-anchor="middle">50</text>
<text x="285.96" y="274.68" font-size="5.5" font-weight="bold" fill="#262626" stroke="#262626" stroke-width="0.22" text-anchor="middle">60</text>
<text x="303.8" y="274.68" font-size="5.5" font-weight="bold" fill="#262626" stroke="#262626" stroke-width="0.22" text-anchor="middle">70</text>
<text x="248" y="281.55" font-size="4.9" font-weight="bold" fill="#262626" stroke="#262626" stroke-width="0.2" text-anchor="middle">Age (Years)</text>
<text transform="translate(161.62 216) rotate(-90)" font-size="4.49" font-weight="bold" fill="#262626" stroke="#262626" stroke-width="0.2" text-anchor="middle">Threshold (dBHL)</text>
<line x1="330.8" y1="172.99" x2="458.4" y2="172.99" stroke="#d9d9d9" stroke-width="0.8"/>
<line x1="330.8" y1="180.78" x2="458.4" y2="180.78" stroke="#d9d9d9" stroke-width="0.8"/>
<line x1="330.8" y1="196.37" x2="458.4" y2="196.37" stroke="#d9d9d9" stroke-width="0.8"/>
<line x1="330.8" y1="211.95" x2="458.4" y2="211.95" stroke="#d9d9d9" stroke-width="0.8"/>
<line x1="330.8" y1="227.54" x2="458.4" y2="227.54" stroke="#d9d9d9" stroke-width="0.8"/>
<line x1="330.8" y1="243.12" x2="458.4" y2="243.12" stroke="#d9d9d9" stroke-width="0.8"/>
<line x1="330.8" y1="258.71" x2="458.4" y2="258.71" stroke="#d9d9d9" stroke-width="0.8"/>
<line x1="349.03" y1="165.2" x2="349.03" y2="266.5" stroke="#d9d9d9" stroke-width="0.8"/>
<line x1="367.26" y1="165.2" x2="367.26" y2="266.5" stroke="#d9d9d9" stroke-width="0.8"/>
<line x1="385.49" y1="165.2" x2="385.49" y2="266.5" stroke="#d9d9d9" stroke-width="0.8"/>
<line x1="403.71" y1="165.2" x2="403.71" y2="266.5" stroke="#d9d9d9" stroke-width="0.8"/>
<line x1="421.94" y1="165.2" x2="421.94" y2="266.5" stroke="#d9d9d9" stroke-width="0.8"/>
<line x1="440.17" y1="165.2" x2="440.17" y2="266.5" stroke="#d9d9d9" stroke-width="0.8"/>
<path d="M330.8 165.2H458.4V266.5" fill="none" stroke="#505050" stroke-width="1.1"/>
<line x1="330.8" y1="165.2" x2="330.8" y2="266.5" stroke="#c8c8c8" stroke-width="1"/>
<line x1="330.3" y1="266.5" x2="458.9" y2="266.5" stroke="#505050" stroke-width="1.3"/>
<clipPath id="c4kR"><rect x="330.8" y="165.2" width="127.6" height="101.3"/></clipPath>
<circle cx="351.95" cy="165.2" r="1.32" fill="#7030A0"/>
<circle cx="353.04" cy="165.2" r="1.32" fill="#7030A0"/>
<circle cx="354.13" cy="165.2" r="1.32" fill="#7030A0"/>
<circle cx="355.23" cy="165.2" r="1.32" fill="#7030A0"/>
<circle cx="356.32" cy="165.2" r="1.32" fill="#7030A0"/>
<circle cx="340.46" cy="169.1" r="1.32" fill="#7030A0"/>
<circle cx="341.74" cy="169.1" r="1.32" fill="#7030A0"/>
<circle cx="343.2" cy="169.1" r="1.32" fill="#7030A0"/>
<circle cx="344.47" cy="169.1" r="1.32" fill="#7030A0"/>
<circle cx="345.93" cy="169.1" r="1.32" fill="#7030A0"/>
<circle cx="356.32" cy="169.1" r="1.32" fill="#7030A0"/>
<circle cx="357.78" cy="169.1" r="1.32" fill="#7030A0"/>
<circle cx="359.24" cy="169.1" r="1.32" fill="#7030A0"/>
<circle cx="360.51" cy="169.1" r="1.32" fill="#7030A0"/>
<circle cx="361.97" cy="169.1" r="1.32" fill="#7030A0"/>
<circle cx="338.46" cy="172.99" r="1.32" fill="#7030A0"/>
<circle cx="339.91" cy="172.99" r="1.32" fill="#7030A0"/>
<circle cx="341.37" cy="172.99" r="1.32" fill="#7030A0"/>
<circle cx="342.83" cy="172.99" r="1.32" fill="#7030A0"/>
<circle cx="344.29" cy="172.99" r="1.32" fill="#7030A0"/>
<circle cx="345.75" cy="172.99" r="1.32" fill="#7030A0"/>
<circle cx="347.21" cy="172.99" r="1.32" fill="#7030A0"/>
<circle cx="348.66" cy="172.99" r="1.32" fill="#7030A0"/>
<circle cx="350.12" cy="172.99" r="1.32" fill="#7030A0"/>
<circle cx="351.58" cy="172.99" r="1.32" fill="#7030A0"/>
<circle cx="353.04" cy="172.99" r="1.32" fill="#7030A0"/>
<circle cx="354.5" cy="172.99" r="1.32" fill="#7030A0"/>
<circle cx="355.77" cy="172.99" r="1.32" fill="#7030A0"/>
<circle cx="335.36" cy="180.78" r="1.32" fill="#7030A0"/>
<circle cx="336.63" cy="180.78" r="1.32" fill="#7030A0"/>
<circle cx="374.37" cy="188.58" r="1.32" fill="#7030A0"/>
<circle cx="382.93" cy="200.27" r="1.32" fill="#7030A0"/>
<circle cx="342.28" cy="169.1" r="1.32" fill="#00B050"/>
<circle cx="350.3" cy="169.1" r="1.32" fill="#00B050"/>
<circle cx="340.46" cy="176.89" r="1.32" fill="#00B050"/>
<circle cx="341.92" cy="176.89" r="1.32" fill="#00B050"/>
<circle cx="343.56" cy="176.89" r="1.32" fill="#00B050"/>
<circle cx="349.03" cy="176.89" r="1.32" fill="#00B050"/>
<circle cx="355.23" cy="176.89" r="1.32" fill="#00B050"/>
<circle cx="356.32" cy="176.89" r="1.32" fill="#00B050"/>
<circle cx="339.73" cy="180.78" r="1.32" fill="#00B050"/>
<circle cx="366.89" cy="196.37" r="1.32" fill="#00B050"/>
<circle cx="368.72" cy="200.27" r="1.32" fill="#00B050"/>
<circle cx="369.81" cy="200.27" r="1.32" fill="#00B050"/>
<circle cx="370.72" cy="200.27" r="1.32" fill="#00B050"/>
<circle cx="371.27" cy="204.16" r="1.32" fill="#00B050"/>
<circle cx="374" cy="204.16" r="1.32" fill="#00B050"/>
<circle cx="375.46" cy="204.16" r="1.32" fill="#00B050"/>
<circle cx="376.92" cy="204.16" r="1.32" fill="#00B050"/>
<circle cx="376.37" cy="208.06" r="1.32" fill="#00B050"/>
<circle cx="341.01" cy="184.68" r="1.32" fill="#808080"/>
<circle cx="360.69" cy="184.68" r="1.32" fill="#808080"/>
<circle cx="344.65" cy="180.78" r="1.32" fill="#808080"/>
<circle cx="345.93" cy="180.78" r="1.32" fill="#808080"/>
<circle cx="353.95" cy="180.78" r="1.32" fill="#808080"/>
<circle cx="355.41" cy="180.78" r="1.32" fill="#808080"/>
<circle cx="356.87" cy="180.78" r="1.32" fill="#808080"/>
<circle cx="358.33" cy="180.78" r="1.32" fill="#808080"/>
<circle cx="359.6" cy="180.78" r="1.32" fill="#808080"/>
<circle cx="356.5" cy="188.58" r="1.32" fill="#808080"/>
<circle cx="370.72" cy="192.47" r="1.32" fill="#808080"/>
<circle cx="350.3" cy="176.89" r="1.32" fill="#FF0000"/>
<circle cx="348.48" cy="180.78" r="1.32" fill="#FF0000"/>
<circle cx="349.58" cy="184.68" r="1.32" fill="#FF0000"/>
<circle cx="365.07" cy="184.68" r="1.32" fill="#FF0000"/>
<circle cx="344.65" cy="188.58" r="1.32" fill="#FF0000"/>
<circle cx="372.54" cy="231.43" r="1.32" fill="#FF0000"/>
<circle cx="373.82" cy="254.81" r="1.32" fill="#FF0000"/>
<circle cx="375.46" cy="254.81" r="1.32" fill="#FF0000"/>
<circle cx="377.1" cy="254.81" r="1.32" fill="#FF0000"/>
<circle cx="378.92" cy="254.81" r="1.32" fill="#FF0000"/>
<circle cx="380.56" cy="254.81" r="1.32" fill="#FF0000"/>
<circle cx="390.41" cy="254.81" r="1.32" fill="#FF0000"/>
<circle cx="391.32" cy="254.81" r="1.32" fill="#FF0000"/>
<circle cx="378.74" cy="258.71" r="1.32" fill="#FF0000"/>
<circle cx="380.02" cy="258.71" r="1.32" fill="#FF0000"/>
<circle cx="381.29" cy="258.71" r="1.32" fill="#FF0000"/>
<circle cx="382.57" cy="258.71" r="1.32" fill="#FF0000"/>
<circle cx="383.66" cy="258.71" r="1.32" fill="#FF0000"/>
<circle cx="388.22" cy="258.71" r="1.32" fill="#FF0000"/>
<circle cx="390.04" cy="258.71" r="1.32" fill="#FF0000"/>
<circle cx="400.07" cy="258.71" r="1.32" fill="#FF0000"/>
<circle cx="401.34" cy="258.71" r="1.32" fill="#FF0000"/>
<circle cx="402.44" cy="258.71" r="1.32" fill="#FF0000"/>
<circle cx="381.84" cy="176.89" r="1.32" fill="#C00000"/>
<circle cx="389.13" cy="180.78" r="1.32" fill="#C00000"/>
<circle cx="389.5" cy="180.78" r="1.32" fill="#C00000"/>
<circle cx="386.76" cy="184.68" r="1.32" fill="#C00000"/>
<circle cx="395.15" cy="184.68" r="1.32" fill="#C00000"/>
<circle cx="396.24" cy="192.47" r="1.32" fill="#C00000"/>
<circle cx="398.79" cy="196.37" r="1.32" fill="#C00000"/>
<circle cx="403.71" cy="200.27" r="1.32" fill="#C00000"/>
<circle cx="407.36" cy="200.27" r="1.32" fill="#C00000"/>
<circle cx="400.07" cy="204.16" r="1.32" fill="#C00000"/>
<circle cx="414.83" cy="208.06" r="1.32" fill="#C00000"/>
<circle cx="416.66" cy="211.95" r="1.32" fill="#C00000"/>
<circle cx="427.23" cy="215.85" r="1.32" fill="#C00000"/>
<circle cx="425.41" cy="219.75" r="1.32" fill="#C00000"/>
<circle cx="430.87" cy="219.75" r="1.32" fill="#C00000"/>
<circle cx="440.17" cy="219.75" r="1.32" fill="#C00000"/>
<circle cx="436.53" cy="223.64" r="1.32" fill="#C00000"/>
<circle cx="385.49" cy="188.58" r="1.32" fill="#000000"/>
<circle cx="386.76" cy="196.37" r="1.32" fill="#000000"/>
<circle cx="390.95" cy="208.06" r="1.32" fill="#000000"/>
<circle cx="391.32" cy="208.06" r="1.32" fill="#000000"/>
<circle cx="400.07" cy="215.85" r="1.32" fill="#000000"/>
<circle cx="407.36" cy="250.92" r="1.32" fill="#000000"/>
<circle cx="383.66" cy="196.37" r="1.32" fill="#4472C4"/>
<circle cx="385.49" cy="211.95" r="1.32" fill="#4472C4"/>
<circle cx="402.44" cy="223.64" r="1.32" fill="#4472C4"/>
<circle cx="365.8" cy="215.85" r="1.32" fill="#FF33CC"/>
<circle cx="369.26" cy="215.85" r="1.32" fill="#FF33CC"/>
<circle cx="376.55" cy="219.75" r="1.32" fill="#FF33CC"/>
<circle cx="364.89" cy="223.64" r="1.32" fill="#FF33CC"/>
<circle cx="385.49" cy="243.12" r="1.32" fill="#FF33CC"/>
<circle cx="386.94" cy="247.02" r="1.32" fill="#FF33CC"/>
<circle cx="398.25" cy="250.92" r="1.32" fill="#FF33CC"/>
<g clip-path="url(#c4kR)">
<line x1="336.09" y1="166.99" x2="382.93" y2="181.17" stroke="#7030A0" stroke-width="0.8"/>
<line x1="337.36" y1="167.93" x2="377.47" y2="202.76" stroke="#00B050" stroke-width="0.8"/>
<line x1="345.93" y1="180.16" x2="371.27" y2="188.73" stroke="#808080" stroke-width="0.7"/>
<line x1="365.98" y1="214.91" x2="398.25" y2="250.92" stroke="#FF33CC" stroke-width="0.8"/>
<line x1="382.93" y1="181.41" x2="440.17" y2="227.3" stroke="#C00000" stroke-width="0.8"/>
<line x1="344.65" y1="182.03" x2="391.87" y2="266.5" stroke="#FF0000" stroke-width="0.8"/>
<line x1="385.49" y1="188.73" x2="407.36" y2="245.23" stroke="#000000" stroke-width="0.8"/>
<line x1="382.93" y1="202.21" x2="402.44" y2="223.33" stroke="#4472C4" stroke-width="0.8"/>
</g>
<text x="326.2" y="167.18" font-size="5.5" font-weight="bold" fill="#262626" stroke="#262626" stroke-width="0.22" text-anchor="end">-10</text>
<text x="326.2" y="182.76" font-size="5.5" font-weight="bold" fill="#262626" stroke="#262626" stroke-width="0.22" text-anchor="end">10</text>
<text x="326.2" y="198.35" font-size="5.5" font-weight="bold" fill="#262626" stroke="#262626" stroke-width="0.22" text-anchor="end">30</text>
<text x="326.2" y="213.93" font-size="5.5" font-weight="bold" fill="#262626" stroke="#262626" stroke-width="0.22" text-anchor="end">50</text>
<text x="326.2" y="229.52" font-size="5.5" font-weight="bold" fill="#262626" stroke="#262626" stroke-width="0.22" text-anchor="end">70</text>
<text x="326.2" y="245.1" font-size="5.5" font-weight="bold" fill="#262626" stroke="#262626" stroke-width="0.22" text-anchor="end">90</text>
<text x="326.2" y="260.69" font-size="5.5" font-weight="bold" fill="#262626" stroke="#262626" stroke-width="0.22" text-anchor="end">110</text>
<text x="330.8" y="275.78" font-size="5.5" font-weight="bold" fill="#262626" stroke="#262626" stroke-width="0.22" text-anchor="middle">0</text>
<text x="349.03" y="275.78" font-size="5.5" font-weight="bold" fill="#262626" stroke="#262626" stroke-width="0.22" text-anchor="middle">10</text>
<text x="367.26" y="275.78" font-size="5.5" font-weight="bold" fill="#262626" stroke="#262626" stroke-width="0.22" text-anchor="middle">20</text>
<text x="385.49" y="275.78" font-size="5.5" font-weight="bold" fill="#262626" stroke="#262626" stroke-width="0.22" text-anchor="middle">30</text>
<text x="403.71" y="275.78" font-size="5.5" font-weight="bold" fill="#262626" stroke="#262626" stroke-width="0.22" text-anchor="middle">40</text>
<text x="421.94" y="275.78" font-size="5.5" font-weight="bold" fill="#262626" stroke="#262626" stroke-width="0.22" text-anchor="middle">50</text>
<text x="440.17" y="275.78" font-size="5.5" font-weight="bold" fill="#262626" stroke="#262626" stroke-width="0.22" text-anchor="middle">60</text>
<text x="458.4" y="275.78" font-size="5.5" font-weight="bold" fill="#262626" stroke="#262626" stroke-width="0.22" text-anchor="middle">70</text>
<text x="392.5" y="283.15" font-size="4.9" font-weight="bold" fill="#262626" stroke="#262626" stroke-width="0.2" text-anchor="middle">Age (Years)</text>
<text transform="translate(314.21 215.9) rotate(-90)" font-size="4.46" font-weight="bold" fill="#262626" stroke="#262626" stroke-width="0.2" text-anchor="middle">Threshold (dBHL)</text>
<line x1="489.6" y1="173.26" x2="614.3" y2="173.26" stroke="#d9d9d9" stroke-width="0.8"/>
<line x1="489.6" y1="181.02" x2="614.3" y2="181.02" stroke="#d9d9d9" stroke-width="0.8"/>
<line x1="489.6" y1="196.55" x2="614.3" y2="196.55" stroke="#d9d9d9" stroke-width="0.8"/>
<line x1="489.6" y1="212.07" x2="614.3" y2="212.07" stroke="#d9d9d9" stroke-width="0.8"/>
<line x1="489.6" y1="227.59" x2="614.3" y2="227.59" stroke="#d9d9d9" stroke-width="0.8"/>
<line x1="489.6" y1="243.12" x2="614.3" y2="243.12" stroke="#d9d9d9" stroke-width="0.8"/>
<line x1="489.6" y1="258.64" x2="614.3" y2="258.64" stroke="#d9d9d9" stroke-width="0.8"/>
<line x1="507.41" y1="165.5" x2="507.41" y2="266.4" stroke="#d9d9d9" stroke-width="0.8"/>
<line x1="525.23" y1="165.5" x2="525.23" y2="266.4" stroke="#d9d9d9" stroke-width="0.8"/>
<line x1="543.04" y1="165.5" x2="543.04" y2="266.4" stroke="#d9d9d9" stroke-width="0.8"/>
<line x1="560.86" y1="165.5" x2="560.86" y2="266.4" stroke="#d9d9d9" stroke-width="0.8"/>
<line x1="578.67" y1="165.5" x2="578.67" y2="266.4" stroke="#d9d9d9" stroke-width="0.8"/>
<line x1="596.49" y1="165.5" x2="596.49" y2="266.4" stroke="#d9d9d9" stroke-width="0.8"/>
<path d="M489.6 165.5H614.3V266.4" fill="none" stroke="#505050" stroke-width="1.1"/>
<line x1="489.6" y1="165.5" x2="489.6" y2="266.4" stroke="#c8c8c8" stroke-width="1"/>
<line x1="489.1" y1="266.4" x2="614.8" y2="266.4" stroke="#505050" stroke-width="1.3"/>
<clipPath id="c4kL"><rect x="489.6" y="165.5" width="124.7" height="100.9"/></clipPath>
<circle cx="511.69" cy="165.5" r="1.32" fill="#7030A0"/>
<circle cx="500.64" cy="169.38" r="1.32" fill="#7030A0"/>
<circle cx="502.07" cy="169.38" r="1.32" fill="#7030A0"/>
<circle cx="510.62" cy="169.38" r="1.32" fill="#7030A0"/>
<circle cx="512.05" cy="169.38" r="1.32" fill="#7030A0"/>
<circle cx="513.47" cy="169.38" r="1.32" fill="#7030A0"/>
<circle cx="514.9" cy="169.38" r="1.32" fill="#7030A0"/>
<circle cx="516.32" cy="169.38" r="1.32" fill="#7030A0"/>
<circle cx="517.75" cy="169.38" r="1.32" fill="#7030A0"/>
<circle cx="518.99" cy="169.38" r="1.32" fill="#7030A0"/>
<circle cx="520.24" cy="169.38" r="1.32" fill="#7030A0"/>
<circle cx="497.62" cy="173.26" r="1.32" fill="#7030A0"/>
<circle cx="499.04" cy="173.26" r="1.32" fill="#7030A0"/>
<circle cx="500.47" cy="173.26" r="1.32" fill="#7030A0"/>
<circle cx="503.5" cy="173.26" r="1.32" fill="#7030A0"/>
<circle cx="504.92" cy="173.26" r="1.32" fill="#7030A0"/>
<circle cx="506.35" cy="173.26" r="1.32" fill="#7030A0"/>
<circle cx="507.77" cy="173.26" r="1.32" fill="#7030A0"/>
<circle cx="509.2" cy="173.26" r="1.32" fill="#7030A0"/>
<circle cx="510.62" cy="173.26" r="1.32" fill="#7030A0"/>
<circle cx="512.05" cy="173.26" r="1.32" fill="#7030A0"/>
<circle cx="513.47" cy="173.26" r="1.32" fill="#7030A0"/>
<circle cx="514.9" cy="173.26" r="1.32" fill="#7030A0"/>
<circle cx="515.97" cy="173.26" r="1.32" fill="#7030A0"/>
<circle cx="494.59" cy="181.02" r="1.32" fill="#7030A0"/>
<circle cx="532" cy="192.67" r="1.32" fill="#7030A0"/>
<circle cx="540.55" cy="200.43" r="1.32" fill="#7030A0"/>
<circle cx="500.64" cy="169.38" r="1.32" fill="#00B050"/>
<circle cx="502.07" cy="169.38" r="1.32" fill="#00B050"/>
<circle cx="503.5" cy="169.38" r="1.32" fill="#00B050"/>
<circle cx="504.92" cy="169.38" r="1.32" fill="#00B050"/>
<circle cx="506.35" cy="169.38" r="1.32" fill="#00B050"/>
<circle cx="507.77" cy="169.38" r="1.32" fill="#00B050"/>
<circle cx="509.2" cy="169.38" r="1.32" fill="#00B050"/>
<circle cx="510.44" cy="169.38" r="1.32" fill="#00B050"/>
<circle cx="497.62" cy="177.14" r="1.32" fill="#00B050"/>
<circle cx="499.04" cy="177.14" r="1.32" fill="#00B050"/>
<circle cx="500.47" cy="177.14" r="1.32" fill="#00B050"/>
<circle cx="501.89" cy="177.14" r="1.32" fill="#00B050"/>
<circle cx="503.32" cy="177.14" r="1.32" fill="#00B050"/>
<circle cx="504.74" cy="177.14" r="1.32" fill="#00B050"/>
<circle cx="506.17" cy="177.14" r="1.32" fill="#00B050"/>
<circle cx="496.37" cy="181.02" r="1.32" fill="#00B050"/>
<circle cx="511.69" cy="181.02" r="1.32" fill="#00B050"/>
<circle cx="513.11" cy="181.02" r="1.32" fill="#00B050"/>
<circle cx="514.72" cy="181.02" r="1.32" fill="#00B050"/>
<circle cx="502.43" cy="196.55" r="1.32" fill="#00B050"/>
<circle cx="524.69" cy="204.31" r="1.32" fill="#00B050"/>
<circle cx="508.66" cy="177.14" r="1.32" fill="#808080"/>
<circle cx="500.11" cy="181.02" r="1.32" fill="#808080"/>
<circle cx="518.46" cy="181.02" r="1.32" fill="#808080"/>
<circle cx="514.72" cy="184.9" r="1.32" fill="#808080"/>
<circle cx="528.26" cy="192.67" r="1.32" fill="#808080"/>
<circle cx="507.41" cy="181.02" r="1.32" fill="#FF0000"/>
<circle cx="508.66" cy="181.02" r="1.32" fill="#FF0000"/>
<circle cx="503.67" cy="192.67" r="1.32" fill="#FF0000"/>
<circle cx="523.45" cy="192.67" r="1.32" fill="#FF0000"/>
<circle cx="530.22" cy="215.95" r="1.32" fill="#FF0000"/>
<circle cx="532" cy="223.71" r="1.32" fill="#FF0000"/>
<circle cx="533.78" cy="231.47" r="1.32" fill="#FF0000"/>
<circle cx="536.27" cy="254.76" r="1.32" fill="#FF0000"/>
<circle cx="558.72" cy="254.76" r="1.32" fill="#FF0000"/>
<circle cx="534.49" cy="258.64" r="1.32" fill="#FF0000"/>
<circle cx="535.74" cy="258.64" r="1.32" fill="#FF0000"/>
<circle cx="536.99" cy="258.64" r="1.32" fill="#FF0000"/>
<circle cx="538.23" cy="258.64" r="1.32" fill="#FF0000"/>
<circle cx="539.48" cy="258.64" r="1.32" fill="#FF0000"/>
<circle cx="541.26" cy="258.64" r="1.32" fill="#FF0000"/>
<circle cx="544.29" cy="258.64" r="1.32" fill="#FF0000"/>
<circle cx="546.07" cy="258.64" r="1.32" fill="#FF0000"/>
<circle cx="556.94" cy="260.97" r="1.32" fill="#FF0000"/>
<circle cx="538.77" cy="184.9" r="1.32" fill="#C00000"/>
<circle cx="542.51" cy="184.9" r="1.32" fill="#C00000"/>
<circle cx="543.76" cy="184.9" r="1.32" fill="#C00000"/>
<circle cx="544.82" cy="184.9" r="1.32" fill="#C00000"/>
<circle cx="546.07" cy="184.9" r="1.32" fill="#C00000"/>
<circle cx="551.06" cy="184.9" r="1.32" fill="#C00000"/>
<circle cx="551.95" cy="184.9" r="1.32" fill="#C00000"/>
<circle cx="564.24" cy="192.67" r="1.32" fill="#C00000"/>
<circle cx="552.31" cy="196.55" r="1.32" fill="#C00000"/>
<circle cx="553.73" cy="196.55" r="1.32" fill="#C00000"/>
<circle cx="555.51" cy="196.55" r="1.32" fill="#C00000"/>
<circle cx="556.94" cy="204.31" r="1.32" fill="#C00000"/>
<circle cx="560.68" cy="208.19" r="1.32" fill="#C00000"/>
<circle cx="571.19" cy="208.19" r="1.32" fill="#C00000"/>
<circle cx="572.97" cy="208.19" r="1.32" fill="#C00000"/>
<circle cx="584.19" cy="219.83" r="1.32" fill="#C00000"/>
<circle cx="587.22" cy="219.83" r="1.32" fill="#C00000"/>
<circle cx="582.23" cy="223.71" r="1.32" fill="#C00000"/>
<circle cx="592.74" cy="223.71" r="1.32" fill="#C00000"/>
<circle cx="596.49" cy="223.71" r="1.32" fill="#C00000"/>
<circle cx="542.51" cy="204.31" r="1.32" fill="#000000"/>
<circle cx="547.32" cy="212.07" r="1.32" fill="#000000"/>
<circle cx="548.03" cy="212.07" r="1.32" fill="#000000"/>
<circle cx="556.94" cy="227.59" r="1.32" fill="#000000"/>
<circle cx="564.42" cy="250.88" r="1.32" fill="#000000"/>
<circle cx="541.8" cy="212.07" r="1.32" fill="#4472C4"/>
<circle cx="542.51" cy="212.07" r="1.32" fill="#4472C4"/>
<circle cx="559.43" cy="223.71" r="1.32" fill="#4472C4"/>
<circle cx="526.48" cy="212.07" r="1.32" fill="#FF33CC"/>
<circle cx="522.73" cy="215.95" r="1.32" fill="#FF33CC"/>
<circle cx="534.49" cy="219.83" r="1.32" fill="#FF33CC"/>
<circle cx="541.8" cy="227.59" r="1.32" fill="#FF33CC"/>
<circle cx="543.04" cy="227.59" r="1.32" fill="#FF33CC"/>
<circle cx="544.29" cy="227.59" r="1.32" fill="#FF33CC"/>
<circle cx="554.98" cy="239.23" r="1.32" fill="#FF33CC"/>
<g clip-path="url(#c4kL)">
<line x1="495.12" y1="167.83" x2="540.55" y2="184.13" stroke="#7030A0" stroke-width="0.8"/>
<line x1="495.12" y1="171.17" x2="525.76" y2="187.23" stroke="#00B050" stroke-width="0.8"/>
<line x1="504.74" y1="179.47" x2="528.26" y2="187.23" stroke="#808080" stroke-width="0.7"/>
<line x1="523.98" y1="211.68" x2="554.98" y2="238.46" stroke="#FF33CC" stroke-width="0.8"/>
<line x1="538.05" y1="184.13" x2="596.49" y2="227.59" stroke="#C00000" stroke-width="0.8"/>
<line x1="503.67" y1="181.64" x2="550.7" y2="266.4" stroke="#FF0000" stroke-width="0.8"/>
<line x1="541.8" y1="205.08" x2="564.95" y2="247.46" stroke="#000000" stroke-width="0.8"/>
<line x1="542.51" y1="208.19" x2="559.43" y2="223.63" stroke="#4472C4" stroke-width="0.8"/>
</g>
<text x="485" y="167.48" font-size="5.5" font-weight="bold" fill="#262626" stroke="#262626" stroke-width="0.22" text-anchor="end">-10</text>
<text x="485" y="183" font-size="5.5" font-weight="bold" fill="#262626" stroke="#262626" stroke-width="0.22" text-anchor="end">10</text>
<text x="485" y="198.53" font-size="5.5" font-weight="bold" fill="#262626" stroke="#262626" stroke-width="0.22" text-anchor="end">30</text>
<text x="485" y="214.05" font-size="5.5" font-weight="bold" fill="#262626" stroke="#262626" stroke-width="0.22" text-anchor="end">50</text>
<text x="485" y="229.57" font-size="5.5" font-weight="bold" fill="#262626" stroke="#262626" stroke-width="0.22" text-anchor="end">70</text>
<text x="485" y="245.1" font-size="5.5" font-weight="bold" fill="#262626" stroke="#262626" stroke-width="0.22" text-anchor="end">90</text>
<text x="485" y="260.62" font-size="5.5" font-weight="bold" fill="#262626" stroke="#262626" stroke-width="0.22" text-anchor="end">110</text>
<text x="489.6" y="275.18" font-size="5.5" font-weight="bold" fill="#262626" stroke="#262626" stroke-width="0.22" text-anchor="middle">0</text>
<text x="507.41" y="275.18" font-size="5.5" font-weight="bold" fill="#262626" stroke="#262626" stroke-width="0.22" text-anchor="middle">10</text>
<text x="525.23" y="275.18" font-size="5.5" font-weight="bold" fill="#262626" stroke="#262626" stroke-width="0.22" text-anchor="middle">20</text>
<text x="543.04" y="275.18" font-size="5.5" font-weight="bold" fill="#262626" stroke="#262626" stroke-width="0.22" text-anchor="middle">30</text>
<text x="560.86" y="275.18" font-size="5.5" font-weight="bold" fill="#262626" stroke="#262626" stroke-width="0.22" text-anchor="middle">40</text>
<text x="578.67" y="275.18" font-size="5.5" font-weight="bold" fill="#262626" stroke="#262626" stroke-width="0.22" text-anchor="middle">50</text>
<text x="596.49" y="275.18" font-size="5.5" font-weight="bold" fill="#262626" stroke="#262626" stroke-width="0.22" text-anchor="middle">60</text>
<text x="614.3" y="275.18" font-size="5.5" font-weight="bold" fill="#262626" stroke="#262626" stroke-width="0.22" text-anchor="middle">70</text>
<text x="550" y="284.25" font-size="4.9" font-weight="bold" fill="#262626" stroke="#262626" stroke-width="0.2" text-anchor="middle">Age (Years)</text>
<text transform="translate(472.62 216) rotate(-90)" font-size="4.49" font-weight="bold" fill="#262626" stroke="#262626" stroke-width="0.2" text-anchor="middle">Threshold (dBHL)</text>
<line x1="21.6" y1="307.7" x2="145.5" y2="307.7" stroke="#d9d9d9" stroke-width="0.8"/>
<line x1="21.6" y1="315.1" x2="145.5" y2="315.1" stroke="#d9d9d9" stroke-width="0.8"/>
<line x1="21.6" y1="329.9" x2="145.5" y2="329.9" stroke="#d9d9d9" stroke-width="0.8"/>
<line x1="21.6" y1="344.7" x2="145.5" y2="344.7" stroke="#d9d9d9" stroke-width="0.8"/>
<line x1="21.6" y1="359.5" x2="145.5" y2="359.5" stroke="#d9d9d9" stroke-width="0.8"/>
<line x1="21.6" y1="374.3" x2="145.5" y2="374.3" stroke="#d9d9d9" stroke-width="0.8"/>
<line x1="21.6" y1="389.1" x2="145.5" y2="389.1" stroke="#d9d9d9" stroke-width="0.8"/>
<line x1="39.3" y1="300.3" x2="39.3" y2="396.5" stroke="#d9d9d9" stroke-width="0.8"/>
<line x1="57" y1="300.3" x2="57" y2="396.5" stroke="#d9d9d9" stroke-width="0.8"/>
<line x1="74.7" y1="300.3" x2="74.7" y2="396.5" stroke="#d9d9d9" stroke-width="0.8"/>
<line x1="92.4" y1="300.3" x2="92.4" y2="396.5" stroke="#d9d9d9" stroke-width="0.8"/>
<line x1="110.1" y1="300.3" x2="110.1" y2="396.5" stroke="#d9d9d9" stroke-width="0.8"/>
<line x1="127.8" y1="300.3" x2="127.8" y2="396.5" stroke="#d9d9d9" stroke-width="0.8"/>
<path d="M21.6 300.3H145.5V396.5" fill="none" stroke="#505050" stroke-width="1.1"/>
<line x1="21.6" y1="300.3" x2="21.6" y2="396.5" stroke="#c8c8c8" stroke-width="1"/>
<line x1="21.1" y1="396.5" x2="146" y2="396.5" stroke="#505050" stroke-width="1.3"/>
<clipPath id="c3R"><rect x="21.6" y="300.3" width="123.9" height="96.2"/></clipPath>
<circle cx="31.51" cy="311.4" r="1.32" fill="#7030A0"/>
<circle cx="34.7" cy="311.4" r="1.32" fill="#7030A0"/>
<circle cx="26.56" cy="315.1" r="1.32" fill="#7030A0"/>
<circle cx="29.74" cy="315.1" r="1.32" fill="#7030A0"/>
<circle cx="35.94" cy="315.1" r="1.32" fill="#7030A0"/>
<circle cx="40.36" cy="315.1" r="1.32" fill="#7030A0"/>
<circle cx="25.85" cy="318.8" r="1.32" fill="#7030A0"/>
<circle cx="41.6" cy="318.8" r="1.32" fill="#7030A0"/>
<circle cx="42.13" cy="322.5" r="1.32" fill="#7030A0"/>
<circle cx="43.19" cy="322.5" r="1.32" fill="#7030A0"/>
<circle cx="44.08" cy="322.5" r="1.32" fill="#7030A0"/>
<circle cx="44.08" cy="326.2" r="1.32" fill="#7030A0"/>
<circle cx="44.96" cy="326.2" r="1.32" fill="#7030A0"/>
<circle cx="45.85" cy="326.2" r="1.32" fill="#7030A0"/>
<circle cx="45.32" cy="329.9" r="1.32" fill="#7030A0"/>
<circle cx="46.56" cy="329.9" r="1.32" fill="#7030A0"/>
<circle cx="47.8" cy="329.9" r="1.32" fill="#7030A0"/>
<circle cx="47.8" cy="333.6" r="1.32" fill="#7030A0"/>
<circle cx="49.03" cy="333.6" r="1.32" fill="#7030A0"/>
<circle cx="50.27" cy="333.6" r="1.32" fill="#7030A0"/>
<circle cx="51.51" cy="333.6" r="1.32" fill="#7030A0"/>
<circle cx="63.37" cy="344.7" r="1.32" fill="#7030A0"/>
<circle cx="72.75" cy="344.7" r="1.32" fill="#7030A0"/>
<circle cx="25.85" cy="322.5" r="1.32" fill="#00B050"/>
<circle cx="28.5" cy="326.2" r="1.32" fill="#00B050"/>
<circle cx="29.74" cy="337.3" r="1.32" fill="#00B050"/>
<circle cx="31.34" cy="337.3" r="1.32" fill="#00B050"/>
<circle cx="32.75" cy="337.3" r="1.32" fill="#00B050"/>
<circle cx="29.03" cy="341" r="1.32" fill="#00B050"/>
<circle cx="30.27" cy="341" r="1.32" fill="#00B050"/>
<circle cx="31.69" cy="341" r="1.32" fill="#00B050"/>
<circle cx="32.93" cy="341" r="1.32" fill="#00B050"/>
<circle cx="34.17" cy="341" r="1.32" fill="#00B050"/>
<circle cx="35.41" cy="341" r="1.32" fill="#00B050"/>
<circle cx="36.47" cy="341" r="1.32" fill="#00B050"/>
<circle cx="29.74" cy="344.7" r="1.32" fill="#00B050"/>
<circle cx="30.98" cy="344.7" r="1.32" fill="#00B050"/>
<circle cx="32.22" cy="344.7" r="1.32" fill="#00B050"/>
<circle cx="33.46" cy="344.7" r="1.32" fill="#00B050"/>
<circle cx="34.7" cy="344.7" r="1.32" fill="#00B050"/>
<circle cx="37.88" cy="344.7" r="1.32" fill="#00B050"/>
<circle cx="39.3" cy="344.7" r="1.32" fill="#00B050"/>
<circle cx="40.72" cy="344.7" r="1.32" fill="#00B050"/>
<circle cx="42.13" cy="344.7" r="1.32" fill="#00B050"/>
<circle cx="43.55" cy="344.7" r="1.32" fill="#00B050"/>
<circle cx="45.32" cy="344.7" r="1.32" fill="#00B050"/>
<circle cx="36.47" cy="348.4" r="1.32" fill="#00B050"/>
<circle cx="42.13" cy="348.4" r="1.32" fill="#00B050"/>
<circle cx="60.89" cy="348.4" r="1.32" fill="#00B050"/>
<circle cx="30.98" cy="352.1" r="1.32" fill="#00B050"/>
<circle cx="43.37" cy="352.1" r="1.32" fill="#00B050"/>
<circle cx="55.94" cy="352.1" r="1.32" fill="#00B050"/>
<circle cx="57.35" cy="352.1" r="1.32" fill="#00B050"/>
<circle cx="58.77" cy="352.1" r="1.32" fill="#00B050"/>
<circle cx="60.19" cy="352.1" r="1.32" fill="#00B050"/>
<circle cx="61.6" cy="352.1" r="1.32" fill="#00B050"/>
<circle cx="63.02" cy="352.1" r="1.32" fill="#00B050"/>
<circle cx="64.43" cy="352.1" r="1.32" fill="#00B050"/>
<circle cx="66.56" cy="352.1" r="1.32" fill="#00B050"/>
<circle cx="29.74" cy="329.9" r="1.32" fill="#808080"/>
<circle cx="30.98" cy="337.3" r="1.32" fill="#808080"/>
<circle cx="45.85" cy="344.7" r="1.32" fill="#808080"/>
<circle cx="45.32" cy="348.4" r="1.32" fill="#808080"/>
<circle cx="46.56" cy="348.4" r="1.32" fill="#808080"/>
<circle cx="47.8" cy="348.4" r="1.32" fill="#808080"/>
<circle cx="49.74" cy="348.4" r="1.32" fill="#808080"/>
<circle cx="45.32" cy="352.1" r="1.32" fill="#808080"/>
<circle cx="59.66" cy="355.8" r="1.32" fill="#808080"/>
<circle cx="38.42" cy="326.2" r="1.32" fill="#FF0000"/>
<circle cx="39.65" cy="326.2" r="1.32" fill="#FF0000"/>
<circle cx="40.36" cy="329.9" r="1.32" fill="#FF0000"/>
<circle cx="34.7" cy="337.3" r="1.32" fill="#FF0000"/>
<circle cx="54.7" cy="341" r="1.32" fill="#FF0000"/>
<circle cx="61.6" cy="366.9" r="1.32" fill="#FF0000"/>
<circle cx="79.66" cy="374.3" r="1.32" fill="#FF0000"/>
<circle cx="78.95" cy="374.3" r="1.32" fill="#FF0000"/>
<circle cx="68.5" cy="378" r="1.32" fill="#FF0000"/>
<circle cx="77.89" cy="378" r="1.32" fill="#FF0000"/>
<circle cx="62.84" cy="381.7" r="1.32" fill="#FF0000"/>
<circle cx="64.43" cy="381.7" r="1.32" fill="#FF0000"/>
<circle cx="66.03" cy="381.7" r="1.32" fill="#FF0000"/>
<circle cx="67.62" cy="381.7" r="1.32" fill="#FF0000"/>
<circle cx="69.21" cy="381.7" r="1.32" fill="#FF0000"/>
<circle cx="70.81" cy="381.7" r="1.32" fill="#FF0000"/>
<circle cx="72.4" cy="381.7" r="1.32" fill="#FF0000"/>
<circle cx="73.99" cy="381.7" r="1.32" fill="#FF0000"/>
<circle cx="76.47" cy="381.7" r="1.32" fill="#FF0000"/>
<circle cx="88.33" cy="385.4" r="1.32" fill="#FF0000"/>
<circle cx="90.81" cy="385.4" r="1.32" fill="#FF0000"/>
<circle cx="54.7" cy="326.2" r="1.32" fill="#FF33CC"/>
<circle cx="56.29" cy="326.2" r="1.32" fill="#FF33CC"/>
<circle cx="57.89" cy="326.2" r="1.32" fill="#FF33CC"/>
<circle cx="65.32" cy="337.3" r="1.32" fill="#FF33CC"/>
<circle cx="66.56" cy="341" r="1.32" fill="#FF33CC"/>
<circle cx="72.75" cy="344.7" r="1.32" fill="#FF33CC"/>
<circle cx="75.41" cy="344.7" r="1.32" fill="#FF33CC"/>
<circle cx="86.38" cy="355.8" r="1.32" fill="#FF33CC"/>
<circle cx="70.28" cy="311.4" r="1.32" fill="#C00000"/>
<circle cx="73.99" cy="311.4" r="1.32" fill="#C00000"/>
<circle cx="75.23" cy="311.4" r="1.32" fill="#C00000"/>
<circle cx="76.65" cy="311.4" r="1.32" fill="#C00000"/>
<circle cx="77.89" cy="315.1" r="1.32" fill="#C00000"/>
<circle cx="82.66" cy="322.5" r="1.32" fill="#C00000"/>
<circle cx="84.08" cy="322.5" r="1.32" fill="#C00000"/>
<circle cx="85.5" cy="322.5" r="1.32" fill="#C00000"/>
<circle cx="87.09" cy="322.5" r="1.32" fill="#C00000"/>
<circle cx="88.33" cy="329.9" r="1.32" fill="#C00000"/>
<circle cx="92.05" cy="329.9" r="1.32" fill="#C00000"/>
<circle cx="95.76" cy="333.6" r="1.32" fill="#C00000"/>
<circle cx="102.67" cy="337.3" r="1.32" fill="#C00000"/>
<circle cx="104.44" cy="337.3" r="1.32" fill="#C00000"/>
<circle cx="113.82" cy="344.7" r="1.32" fill="#C00000"/>
<circle cx="115.76" cy="344.7" r="1.32" fill="#C00000"/>
<circle cx="118.77" cy="348.4" r="1.32" fill="#C00000"/>
<circle cx="124.44" cy="348.4" r="1.32" fill="#C00000"/>
<circle cx="127.62" cy="348.4" r="1.32" fill="#C00000"/>
<circle cx="73.99" cy="341" r="1.32" fill="#000000"/>
<circle cx="75.94" cy="344.7" r="1.32" fill="#000000"/>
<circle cx="79.12" cy="348.4" r="1.32" fill="#000000"/>
<circle cx="95.76" cy="381.7" r="1.32" fill="#000000"/>
<circle cx="73.99" cy="359.5" r="1.32" fill="#4472C4"/>
<circle cx="88.86" cy="359.5" r="1.32" fill="#4472C4"/>
<circle cx="90.63" cy="359.5" r="1.32" fill="#4472C4"/>
<g clip-path="url(#c3R)">
<line x1="26.56" y1="310.88" x2="72.75" y2="348.62" stroke="#7030A0" stroke-width="0.8"/>
<line x1="26.56" y1="338.93" x2="45.32" y2="344.92" stroke="#00B050" stroke-width="0.8"/>
<line x1="45.32" y1="344.92" x2="66.56" y2="354.17" stroke="#00B050" stroke-width="0.8"/>
<line x1="29.74" y1="329.9" x2="59.66" y2="355.8" stroke="#808080" stroke-width="0.7"/>
<line x1="55.23" y1="326.57" x2="86.38" y2="355.43" stroke="#FF33CC" stroke-width="0.8"/>
<line x1="70.28" y1="311.4" x2="127.62" y2="353.36" stroke="#C00000" stroke-width="0.8"/>
<line x1="34.7" y1="330.86" x2="88.68" y2="396.5" stroke="#FF0000" stroke-width="0.8"/>
<line x1="73.99" y1="339.82" x2="96.47" y2="377.7" stroke="#000000" stroke-width="0.8"/>
<line x1="73.46" y1="353.58" x2="90.81" y2="359.5" stroke="#4472C4" stroke-width="0.8"/>
</g>
<text x="17" y="302.28" font-size="5.5" font-weight="bold" fill="#262626" stroke="#262626" stroke-width="0.22" text-anchor="end">-10</text>
<text x="17" y="317.08" font-size="5.5" font-weight="bold" fill="#262626" stroke="#262626" stroke-width="0.22" text-anchor="end">10</text>
<text x="17" y="331.88" font-size="5.5" font-weight="bold" fill="#262626" stroke="#262626" stroke-width="0.22" text-anchor="end">30</text>
<text x="17" y="346.68" font-size="5.5" font-weight="bold" fill="#262626" stroke="#262626" stroke-width="0.22" text-anchor="end">50</text>
<text x="17" y="361.48" font-size="5.5" font-weight="bold" fill="#262626" stroke="#262626" stroke-width="0.22" text-anchor="end">70</text>
<text x="17" y="376.28" font-size="5.5" font-weight="bold" fill="#262626" stroke="#262626" stroke-width="0.22" text-anchor="end">90</text>
<text x="17" y="391.08" font-size="5.5" font-weight="bold" fill="#262626" stroke="#262626" stroke-width="0.22" text-anchor="end">110</text>
<text x="21.6" y="405.78" font-size="5.5" font-weight="bold" fill="#262626" stroke="#262626" stroke-width="0.22" text-anchor="middle">0</text>
<text x="39.3" y="405.78" font-size="5.5" font-weight="bold" fill="#262626" stroke="#262626" stroke-width="0.22" text-anchor="middle">10</text>
<text x="57" y="405.78" font-size="5.5" font-weight="bold" fill="#262626" stroke="#262626" stroke-width="0.22" text-anchor="middle">20</text>
<text x="74.7" y="405.78" font-size="5.5" font-weight="bold" fill="#262626" stroke="#262626" stroke-width="0.22" text-anchor="middle">30</text>
<text x="92.4" y="405.78" font-size="5.5" font-weight="bold" fill="#262626" stroke="#262626" stroke-width="0.22" text-anchor="middle">40</text>
<text x="110.1" y="405.78" font-size="5.5" font-weight="bold" fill="#262626" stroke="#262626" stroke-width="0.22" text-anchor="middle">50</text>
<text x="127.8" y="405.78" font-size="5.5" font-weight="bold" fill="#262626" stroke="#262626" stroke-width="0.22" text-anchor="middle">60</text>
<text x="145.5" y="405.78" font-size="5.5" font-weight="bold" fill="#262626" stroke="#262626" stroke-width="0.22" text-anchor="middle">70</text>
<text x="86.4" y="410.75" font-size="4.9" font-weight="bold" fill="#262626" stroke="#262626" stroke-width="0.2" text-anchor="middle">Age (Years)</text>
<text transform="translate(6.66 346) rotate(-90)" font-size="4.32" font-weight="bold" fill="#262626" stroke="#262626" stroke-width="0.2" text-anchor="middle">Threshold (dBHL)</text>
<line x1="179.3" y1="305.62" x2="304.6" y2="305.62" stroke="#d9d9d9" stroke-width="0.8"/>
<line x1="179.3" y1="312.95" x2="304.6" y2="312.95" stroke="#d9d9d9" stroke-width="0.8"/>
<line x1="179.3" y1="327.59" x2="304.6" y2="327.59" stroke="#d9d9d9" stroke-width="0.8"/>
<line x1="179.3" y1="342.24" x2="304.6" y2="342.24" stroke="#d9d9d9" stroke-width="0.8"/>
<line x1="179.3" y1="356.88" x2="304.6" y2="356.88" stroke="#d9d9d9" stroke-width="0.8"/>
<line x1="179.3" y1="371.53" x2="304.6" y2="371.53" stroke="#d9d9d9" stroke-width="0.8"/>
<line x1="179.3" y1="386.18" x2="304.6" y2="386.18" stroke="#d9d9d9" stroke-width="0.8"/>
<line x1="197.2" y1="298.3" x2="197.2" y2="393.5" stroke="#d9d9d9" stroke-width="0.8"/>
<line x1="215.1" y1="298.3" x2="215.1" y2="393.5" stroke="#d9d9d9" stroke-width="0.8"/>
<line x1="233" y1="298.3" x2="233" y2="393.5" stroke="#d9d9d9" stroke-width="0.8"/>
<line x1="250.9" y1="298.3" x2="250.9" y2="393.5" stroke="#d9d9d9" stroke-width="0.8"/>
<line x1="268.8" y1="298.3" x2="268.8" y2="393.5" stroke="#d9d9d9" stroke-width="0.8"/>
<line x1="286.7" y1="298.3" x2="286.7" y2="393.5" stroke="#d9d9d9" stroke-width="0.8"/>
<path d="M179.3 298.3H304.6V393.5" fill="none" stroke="#505050" stroke-width="1.1"/>
<line x1="179.3" y1="298.3" x2="179.3" y2="393.5" stroke="#c8c8c8" stroke-width="1"/>
<line x1="178.8" y1="393.5" x2="305.1" y2="393.5" stroke="#505050" stroke-width="1.3"/>
<clipPath id="c3L"><rect x="179.3" y="298.3" width="125.3" height="95.2"/></clipPath>
<circle cx="189.5" cy="309.28" r="1.2" fill="#7030A0"/>
<circle cx="192.9" cy="309.28" r="1.2" fill="#7030A0"/>
<circle cx="183.78" cy="312.95" r="1.2" fill="#7030A0"/>
<circle cx="187.53" cy="312.95" r="1.2" fill="#7030A0"/>
<circle cx="193.44" cy="312.95" r="1.2" fill="#7030A0"/>
<circle cx="184.49" cy="316.61" r="1.2" fill="#7030A0"/>
<circle cx="193.8" cy="316.61" r="1.2" fill="#7030A0"/>
<circle cx="198.27" cy="316.61" r="1.2" fill="#7030A0"/>
<circle cx="198.81" cy="320.27" r="1.2" fill="#7030A0"/>
<circle cx="200.06" cy="320.27" r="1.2" fill="#7030A0"/>
<circle cx="201.32" cy="320.27" r="1.2" fill="#7030A0"/>
<circle cx="202.57" cy="320.27" r="1.2" fill="#7030A0"/>
<circle cx="199.53" cy="323.93" r="1.2" fill="#7030A0"/>
<circle cx="200.78" cy="323.93" r="1.2" fill="#7030A0"/>
<circle cx="202.03" cy="323.93" r="1.2" fill="#7030A0"/>
<circle cx="203.82" cy="323.93" r="1.2" fill="#7030A0"/>
<circle cx="200.06" cy="327.59" r="1.2" fill="#7030A0"/>
<circle cx="201.32" cy="327.59" r="1.2" fill="#7030A0"/>
<circle cx="202.57" cy="327.59" r="1.2" fill="#7030A0"/>
<circle cx="203.82" cy="327.59" r="1.2" fill="#7030A0"/>
<circle cx="205.08" cy="327.59" r="1.2" fill="#7030A0"/>
<circle cx="206.33" cy="327.59" r="1.2" fill="#7030A0"/>
<circle cx="208.3" cy="327.59" r="1.2" fill="#7030A0"/>
<circle cx="209.55" cy="334.92" r="1.2" fill="#7030A0"/>
<circle cx="221.37" cy="345.9" r="1.2" fill="#7030A0"/>
<circle cx="230.67" cy="345.9" r="1.2" fill="#7030A0"/>
<circle cx="183.42" cy="323.93" r="1.2" fill="#00B050"/>
<circle cx="185.03" cy="338.58" r="1.2" fill="#00B050"/>
<circle cx="186.28" cy="338.58" r="1.2" fill="#00B050"/>
<circle cx="187.53" cy="338.58" r="1.2" fill="#00B050"/>
<circle cx="188.79" cy="338.58" r="1.2" fill="#00B050"/>
<circle cx="190.04" cy="338.58" r="1.2" fill="#00B050"/>
<circle cx="191.29" cy="338.58" r="1.2" fill="#00B050"/>
<circle cx="192.55" cy="338.58" r="1.2" fill="#00B050"/>
<circle cx="193.8" cy="338.58" r="1.2" fill="#00B050"/>
<circle cx="195.05" cy="338.58" r="1.2" fill="#00B050"/>
<circle cx="196.31" cy="338.58" r="1.2" fill="#00B050"/>
<circle cx="197.56" cy="338.58" r="1.2" fill="#00B050"/>
<circle cx="185.74" cy="342.24" r="1.2" fill="#00B050"/>
<circle cx="187" cy="342.24" r="1.2" fill="#00B050"/>
<circle cx="188.25" cy="342.24" r="1.2" fill="#00B050"/>
<circle cx="192.55" cy="342.24" r="1.2" fill="#00B050"/>
<circle cx="193.8" cy="342.24" r="1.2" fill="#00B050"/>
<circle cx="195.05" cy="342.24" r="1.2" fill="#00B050"/>
<circle cx="196.31" cy="342.24" r="1.2" fill="#00B050"/>
<circle cx="197.56" cy="342.24" r="1.2" fill="#00B050"/>
<circle cx="198.81" cy="342.24" r="1.2" fill="#00B050"/>
<circle cx="200.06" cy="342.24" r="1.2" fill="#00B050"/>
<circle cx="201.32" cy="342.24" r="1.2" fill="#00B050"/>
<circle cx="202.57" cy="342.24" r="1.2" fill="#00B050"/>
<circle cx="204.54" cy="342.24" r="1.2" fill="#00B050"/>
<circle cx="188.79" cy="345.9" r="1.2" fill="#00B050"/>
<circle cx="190.04" cy="345.9" r="1.2" fill="#00B050"/>
<circle cx="191.29" cy="345.9" r="1.2" fill="#00B050"/>
<circle cx="192.55" cy="345.9" r="1.2" fill="#00B050"/>
<circle cx="202.03" cy="345.9" r="1.2" fill="#00B050"/>
<circle cx="189.5" cy="349.56" r="1.2" fill="#00B050"/>
<circle cx="198.27" cy="349.56" r="1.2" fill="#00B050"/>
<circle cx="214.56" cy="353.22" r="1.2" fill="#00B050"/>
<circle cx="192.01" cy="356.88" r="1.2" fill="#00B050"/>
<circle cx="187.18" cy="327.59" r="1.2" fill="#808080"/>
<circle cx="189.5" cy="331.25" r="1.2" fill="#808080"/>
<circle cx="190.04" cy="334.92" r="1.2" fill="#808080"/>
<circle cx="191.83" cy="334.92" r="1.2" fill="#808080"/>
<circle cx="207.58" cy="342.24" r="1.2" fill="#808080"/>
<circle cx="208.3" cy="345.9" r="1.2" fill="#808080"/>
<circle cx="209.55" cy="345.9" r="1.2" fill="#808080"/>
<circle cx="203.82" cy="349.56" r="1.2" fill="#808080"/>
<circle cx="218.14" cy="349.56" r="1.2" fill="#808080"/>
<circle cx="196.31" cy="327.59" r="1.2" fill="#FF0000"/>
<circle cx="197.02" cy="331.25" r="1.2" fill="#FF0000"/>
<circle cx="198.27" cy="331.25" r="1.2" fill="#FF0000"/>
<circle cx="192.9" cy="338.58" r="1.2" fill="#FF0000"/>
<circle cx="212.06" cy="338.58" r="1.2" fill="#FF0000"/>
<circle cx="219.4" cy="349.56" r="1.2" fill="#FF0000"/>
<circle cx="221.37" cy="364.21" r="1.2" fill="#FF0000"/>
<circle cx="223.16" cy="371.53" r="1.2" fill="#FF0000"/>
<circle cx="236.4" cy="371.53" r="1.2" fill="#FF0000"/>
<circle cx="225.12" cy="375.19" r="1.2" fill="#FF0000"/>
<circle cx="226.56" cy="375.19" r="1.2" fill="#FF0000"/>
<circle cx="228.17" cy="375.19" r="1.2" fill="#FF0000"/>
<circle cx="226.38" cy="378.85" r="1.2" fill="#FF0000"/>
<circle cx="227.63" cy="378.85" r="1.2" fill="#FF0000"/>
<circle cx="228.88" cy="378.85" r="1.2" fill="#FF0000"/>
<circle cx="230.14" cy="378.85" r="1.2" fill="#FF0000"/>
<circle cx="231.39" cy="378.85" r="1.2" fill="#FF0000"/>
<circle cx="234.43" cy="378.85" r="1.2" fill="#FF0000"/>
<circle cx="237.48" cy="378.85" r="1.2" fill="#FF0000"/>
<circle cx="238.19" cy="378.85" r="1.2" fill="#FF0000"/>
<circle cx="248.57" cy="378.85" r="1.2" fill="#FF0000"/>
<circle cx="246.25" cy="382.52" r="1.2" fill="#FF0000"/>
<circle cx="212.06" cy="323.93" r="1.2" fill="#FF33CC"/>
<circle cx="216.35" cy="323.93" r="1.2" fill="#FF33CC"/>
<circle cx="223.87" cy="338.58" r="1.2" fill="#FF33CC"/>
<circle cx="234.43" cy="342.24" r="1.2" fill="#FF33CC"/>
<circle cx="244.28" cy="353.22" r="1.2" fill="#FF33CC"/>
<circle cx="232.64" cy="309.28" r="1.2" fill="#C00000"/>
<circle cx="228.88" cy="323.93" r="1.2" fill="#C00000"/>
<circle cx="234.43" cy="331.25" r="1.2" fill="#C00000"/>
<circle cx="235.51" cy="331.25" r="1.2" fill="#C00000"/>
<circle cx="236.4" cy="331.25" r="1.2" fill="#C00000"/>
<circle cx="240.52" cy="331.25" r="1.2" fill="#C00000"/>
<circle cx="241.95" cy="331.25" r="1.2" fill="#C00000"/>
<circle cx="243.38" cy="331.25" r="1.2" fill="#C00000"/>
<circle cx="245.53" cy="331.25" r="1.2" fill="#C00000"/>
<circle cx="253.59" cy="331.25" r="1.2" fill="#C00000"/>
<circle cx="246.25" cy="334.92" r="1.2" fill="#C00000"/>
<circle cx="250.18" cy="334.92" r="1.2" fill="#C00000"/>
<circle cx="261.1" cy="338.58" r="1.2" fill="#C00000"/>
<circle cx="262.18" cy="338.58" r="1.2" fill="#C00000"/>
<circle cx="263.07" cy="338.58" r="1.2" fill="#C00000"/>
<circle cx="273.63" cy="338.58" r="1.2" fill="#C00000"/>
<circle cx="272.38" cy="345.9" r="1.2" fill="#C00000"/>
<circle cx="286.16" cy="345.9" r="1.2" fill="#C00000"/>
<circle cx="277.39" cy="349.56" r="1.2" fill="#C00000"/>
<circle cx="282.94" cy="349.56" r="1.2" fill="#C00000"/>
<circle cx="232.64" cy="342.24" r="1.2" fill="#000000"/>
<circle cx="234.43" cy="345.9" r="1.2" fill="#000000"/>
<circle cx="238.19" cy="349.56" r="1.2" fill="#000000"/>
<circle cx="246.78" cy="356.88" r="1.2" fill="#000000"/>
<circle cx="253.59" cy="378.85" r="1.2" fill="#000000"/>
<circle cx="232.64" cy="356.88" r="1.2" fill="#4472C4"/>
<circle cx="248.57" cy="360.55" r="1.2" fill="#4472C4"/>
<g clip-path="url(#c3L)">
<line x1="184.49" y1="308.63" x2="230.67" y2="349.27" stroke="#7030A0" stroke-width="0.8"/>
<line x1="183.78" y1="337.7" x2="214.56" y2="353.22" stroke="#00B050" stroke-width="0.8"/>
<line x1="187.18" y1="327.59" x2="218.14" y2="353.59" stroke="#808080" stroke-width="0.7"/>
<line x1="212.59" y1="324.08" x2="244.28" y2="353" stroke="#FF33CC" stroke-width="0.8"/>
<line x1="228.88" y1="323.49" x2="286.16" y2="350" stroke="#C00000" stroke-width="0.8"/>
<line x1="193.26" y1="330.89" x2="247.86" y2="393.5" stroke="#FF0000" stroke-width="0.8"/>
<line x1="232.64" y1="343.41" x2="254.3" y2="375.27" stroke="#000000" stroke-width="0.8"/>
<line x1="231.39" y1="353" x2="248.57" y2="360.4" stroke="#4472C4" stroke-width="0.8"/>
</g>
<text x="174.7" y="300.28" font-size="5.5" font-weight="bold" fill="#262626" stroke="#262626" stroke-width="0.22" text-anchor="end">-10</text>
<text x="174.7" y="314.93" font-size="5.5" font-weight="bold" fill="#262626" stroke="#262626" stroke-width="0.22" text-anchor="end">10</text>
<text x="174.7" y="329.57" font-size="5.5" font-weight="bold" fill="#262626" stroke="#262626" stroke-width="0.22" text-anchor="end">30</text>
<text x="174.7" y="344.22" font-size="5.5" font-weight="bold" fill="#262626" stroke="#262626" stroke-width="0.22" text-anchor="end">50</text>
<text x="174.7" y="358.86" font-size="5.5" font-weight="bold" fill="#262626" stroke="#262626" stroke-width="0.22" text-anchor="end">70</text>
<text x="174.7" y="373.51" font-size="5.5" font-weight="bold" fill="#262626" stroke="#262626" stroke-width="0.22" text-anchor="end">90</text>
<text x="174.7" y="388.16" font-size="5.5" font-weight="bold" fill="#262626" stroke="#262626" stroke-width="0.22" text-anchor="end">110</text>
<text x="179.3" y="403.38" font-size="5.5" font-weight="bold" fill="#262626" stroke="#262626" stroke-width="0.22" text-anchor="middle">0</text>
<text x="197.2" y="403.38" font-size="5.5" font-weight="bold" fill="#262626" stroke="#262626" stroke-width="0.22" text-anchor="middle">10</text>
<text x="215.1" y="403.38" font-size="5.5" font-weight="bold" fill="#262626" stroke="#262626" stroke-width="0.22" text-anchor="middle">20</text>
<text x="233" y="403.38" font-size="5.5" font-weight="bold" fill="#262626" stroke="#262626" stroke-width="0.22" text-anchor="middle">30</text>
<text x="250.9" y="403.38" font-size="5.5" font-weight="bold" fill="#262626" stroke="#262626" stroke-width="0.22" text-anchor="middle">40</text>
<text x="268.8" y="403.38" font-size="5.5" font-weight="bold" fill="#262626" stroke="#262626" stroke-width="0.22" text-anchor="middle">50</text>
<text x="286.7" y="403.38" font-size="5.5" font-weight="bold" fill="#262626" stroke="#262626" stroke-width="0.22" text-anchor="middle">60</text>
<text x="304.6" y="403.38" font-size="5.5" font-weight="bold" fill="#262626" stroke="#262626" stroke-width="0.22" text-anchor="middle">70</text>
<text x="243.1" y="410.25" font-size="4.9" font-weight="bold" fill="#262626" stroke="#262626" stroke-width="0.2" text-anchor="middle">Age (Years)</text>
<text transform="translate(165.08 344.9) rotate(-90)" font-size="4.12" font-weight="bold" fill="#262626" stroke="#262626" stroke-width="0.2" text-anchor="middle">Thresholds (dBHL)</text>
<line x1="331.4" y1="306.38" x2="460.9" y2="306.38" stroke="#d9d9d9" stroke-width="0.8"/>
<line x1="331.4" y1="313.77" x2="460.9" y2="313.77" stroke="#d9d9d9" stroke-width="0.8"/>
<line x1="331.4" y1="328.54" x2="460.9" y2="328.54" stroke="#d9d9d9" stroke-width="0.8"/>
<line x1="331.4" y1="343.31" x2="460.9" y2="343.31" stroke="#d9d9d9" stroke-width="0.8"/>
<line x1="331.4" y1="358.08" x2="460.9" y2="358.08" stroke="#d9d9d9" stroke-width="0.8"/>
<line x1="331.4" y1="372.85" x2="460.9" y2="372.85" stroke="#d9d9d9" stroke-width="0.8"/>
<line x1="331.4" y1="387.62" x2="460.9" y2="387.62" stroke="#d9d9d9" stroke-width="0.8"/>
<line x1="349.9" y1="299" x2="349.9" y2="395" stroke="#d9d9d9" stroke-width="0.8"/>
<line x1="368.4" y1="299" x2="368.4" y2="395" stroke="#d9d9d9" stroke-width="0.8"/>
<line x1="386.9" y1="299" x2="386.9" y2="395" stroke="#d9d9d9" stroke-width="0.8"/>
<line x1="405.4" y1="299" x2="405.4" y2="395" stroke="#d9d9d9" stroke-width="0.8"/>
<line x1="423.9" y1="299" x2="423.9" y2="395" stroke="#d9d9d9" stroke-width="0.8"/>
<line x1="442.4" y1="299" x2="442.4" y2="395" stroke="#d9d9d9" stroke-width="0.8"/>
<path d="M331.4 299H460.9V395" fill="none" stroke="#505050" stroke-width="1.1"/>
<line x1="331.4" y1="299" x2="331.4" y2="395" stroke="#c8c8c8" stroke-width="1"/>
<line x1="330.9" y1="395" x2="461.4" y2="395" stroke="#505050" stroke-width="1.3"/>
<clipPath id="c8kR"><rect x="331.4" y="299" width="129.5" height="96"/></clipPath>
<circle cx="346.75" cy="302.69" r="1.32" fill="#7030A0"/>
<circle cx="354.89" cy="302.69" r="1.32" fill="#7030A0"/>
<circle cx="356.38" cy="302.69" r="1.32" fill="#7030A0"/>
<circle cx="357.85" cy="302.69" r="1.32" fill="#7030A0"/>
<circle cx="345.64" cy="306.38" r="1.32" fill="#7030A0"/>
<circle cx="347.31" cy="306.38" r="1.32" fill="#7030A0"/>
<circle cx="348.97" cy="306.38" r="1.32" fill="#7030A0"/>
<circle cx="350.64" cy="306.38" r="1.32" fill="#7030A0"/>
<circle cx="352.3" cy="306.38" r="1.32" fill="#7030A0"/>
<circle cx="353.97" cy="306.38" r="1.32" fill="#7030A0"/>
<circle cx="355.63" cy="306.38" r="1.32" fill="#7030A0"/>
<circle cx="357.3" cy="306.38" r="1.32" fill="#7030A0"/>
<circle cx="359.15" cy="306.38" r="1.32" fill="#7030A0"/>
<circle cx="361" cy="306.38" r="1.32" fill="#7030A0"/>
<circle cx="339.35" cy="310.08" r="1.32" fill="#7030A0"/>
<circle cx="341.57" cy="310.08" r="1.32" fill="#7030A0"/>
<circle cx="346.2" cy="310.08" r="1.32" fill="#7030A0"/>
<circle cx="351.38" cy="310.08" r="1.32" fill="#7030A0"/>
<circle cx="354.52" cy="310.08" r="1.32" fill="#7030A0"/>
<circle cx="357.3" cy="310.08" r="1.32" fill="#7030A0"/>
<circle cx="360.07" cy="310.08" r="1.32" fill="#7030A0"/>
<circle cx="362.85" cy="310.08" r="1.32" fill="#7030A0"/>
<circle cx="336.95" cy="313.77" r="1.32" fill="#7030A0"/>
<circle cx="375.25" cy="328.54" r="1.32" fill="#7030A0"/>
<circle cx="385.05" cy="339.62" r="1.32" fill="#7030A0"/>
<circle cx="351.75" cy="302.69" r="1.32" fill="#00B050"/>
<circle cx="353.04" cy="302.69" r="1.32" fill="#00B050"/>
<circle cx="341.2" cy="306.38" r="1.32" fill="#00B050"/>
<circle cx="342.69" cy="306.38" r="1.32" fill="#00B050"/>
<circle cx="344.16" cy="306.38" r="1.32" fill="#00B050"/>
<circle cx="345.64" cy="306.38" r="1.32" fill="#00B050"/>
<circle cx="340.83" cy="310.08" r="1.32" fill="#00B050"/>
<circle cx="342.5" cy="310.08" r="1.32" fill="#00B050"/>
<circle cx="344.16" cy="310.08" r="1.32" fill="#00B050"/>
<circle cx="345.83" cy="310.08" r="1.32" fill="#00B050"/>
<circle cx="347.31" cy="310.08" r="1.32" fill="#00B050"/>
<circle cx="348.97" cy="310.08" r="1.32" fill="#00B050"/>
<circle cx="350.45" cy="310.08" r="1.32" fill="#00B050"/>
<circle cx="367.1" cy="310.08" r="1.32" fill="#00B050"/>
<circle cx="339.35" cy="313.77" r="1.32" fill="#00B050"/>
<circle cx="340.83" cy="313.77" r="1.32" fill="#00B050"/>
<circle cx="342.31" cy="313.77" r="1.32" fill="#00B050"/>
<circle cx="343.79" cy="313.77" r="1.32" fill="#00B050"/>
<circle cx="345.27" cy="313.77" r="1.32" fill="#00B050"/>
<circle cx="346.75" cy="313.77" r="1.32" fill="#00B050"/>
<circle cx="349.34" cy="313.77" r="1.32" fill="#00B050"/>
<circle cx="350.82" cy="313.77" r="1.32" fill="#00B050"/>
<circle cx="352.3" cy="313.77" r="1.32" fill="#00B050"/>
<circle cx="353.78" cy="313.77" r="1.32" fill="#00B050"/>
<circle cx="355.45" cy="313.77" r="1.32" fill="#00B050"/>
<circle cx="336.39" cy="317.46" r="1.32" fill="#00B050"/>
<circle cx="340.65" cy="317.46" r="1.32" fill="#00B050"/>
<circle cx="371.54" cy="317.46" r="1.32" fill="#00B050"/>
<circle cx="340.65" cy="321.15" r="1.32" fill="#00B050"/>
<circle cx="369.69" cy="321.15" r="1.32" fill="#00B050"/>
<circle cx="375.25" cy="321.15" r="1.32" fill="#00B050"/>
<circle cx="372.65" cy="324.85" r="1.32" fill="#00B050"/>
<circle cx="377.65" cy="332.23" r="1.32" fill="#00B050"/>
<circle cx="377.09" cy="339.62" r="1.32" fill="#00B050"/>
<circle cx="342.5" cy="317.46" r="1.32" fill="#808080"/>
<circle cx="343.98" cy="317.46" r="1.32" fill="#808080"/>
<circle cx="345.27" cy="317.46" r="1.32" fill="#808080"/>
<circle cx="346.75" cy="317.46" r="1.32" fill="#808080"/>
<circle cx="355.45" cy="317.46" r="1.32" fill="#808080"/>
<circle cx="357.12" cy="317.46" r="1.32" fill="#808080"/>
<circle cx="358.78" cy="317.46" r="1.32" fill="#808080"/>
<circle cx="360.44" cy="317.46" r="1.32" fill="#808080"/>
<circle cx="357.3" cy="313.77" r="1.32" fill="#808080"/>
<circle cx="362.29" cy="313.77" r="1.32" fill="#808080"/>
<circle cx="340.09" cy="324.85" r="1.32" fill="#808080"/>
<circle cx="371.54" cy="324.85" r="1.32" fill="#808080"/>
<circle cx="356.75" cy="328.54" r="1.32" fill="#808080"/>
<circle cx="349.9" cy="321.15" r="1.32" fill="#FF0000"/>
<circle cx="351.75" cy="324.85" r="1.32" fill="#FF0000"/>
<circle cx="350.45" cy="328.54" r="1.32" fill="#FF0000"/>
<circle cx="345.64" cy="332.23" r="1.32" fill="#FF0000"/>
<circle cx="366" cy="335.92" r="1.32" fill="#FF0000"/>
<circle cx="373.39" cy="376.54" r="1.32" fill="#FF0000"/>
<circle cx="399.85" cy="376.54" r="1.32" fill="#FF0000"/>
<circle cx="401.7" cy="376.54" r="1.32" fill="#FF0000"/>
<circle cx="403.18" cy="376.54" r="1.32" fill="#FF0000"/>
<circle cx="377.09" cy="380.23" r="1.32" fill="#FF0000"/>
<circle cx="380.05" cy="380.23" r="1.32" fill="#FF0000"/>
<circle cx="391.89" cy="380.23" r="1.32" fill="#FF0000"/>
<circle cx="374.5" cy="383.92" r="1.32" fill="#FF0000"/>
<circle cx="376.35" cy="383.92" r="1.32" fill="#FF0000"/>
<circle cx="378.2" cy="383.92" r="1.32" fill="#FF0000"/>
<circle cx="380.05" cy="383.92" r="1.32" fill="#FF0000"/>
<circle cx="381.9" cy="383.92" r="1.32" fill="#FF0000"/>
<circle cx="383.75" cy="383.92" r="1.32" fill="#FF0000"/>
<circle cx="384.5" cy="387.62" r="1.32" fill="#FF0000"/>
<circle cx="388.19" cy="387.62" r="1.32" fill="#FF0000"/>
<circle cx="389.3" cy="387.62" r="1.32" fill="#FF0000"/>
<circle cx="390.6" cy="387.62" r="1.32" fill="#FF0000"/>
<circle cx="366" cy="354.38" r="1.32" fill="#FF33CC"/>
<circle cx="369.69" cy="358.08" r="1.32" fill="#FF33CC"/>
<circle cx="377.09" cy="361.77" r="1.32" fill="#FF33CC"/>
<circle cx="378.2" cy="365.46" r="1.32" fill="#FF33CC"/>
<circle cx="386.34" cy="369.15" r="1.32" fill="#FF33CC"/>
<circle cx="388.19" cy="372.85" r="1.32" fill="#FF33CC"/>
<circle cx="398.74" cy="380.23" r="1.32" fill="#FF33CC"/>
<circle cx="382.64" cy="339.62" r="1.32" fill="#C00000"/>
<circle cx="384.12" cy="339.62" r="1.32" fill="#C00000"/>
<circle cx="385.6" cy="339.62" r="1.32" fill="#C00000"/>
<circle cx="386.9" cy="339.62" r="1.32" fill="#C00000"/>
<circle cx="388.19" cy="343.31" r="1.32" fill="#C00000"/>
<circle cx="389.49" cy="343.31" r="1.32" fill="#C00000"/>
<circle cx="390.6" cy="343.31" r="1.32" fill="#C00000"/>
<circle cx="391.89" cy="343.31" r="1.32" fill="#C00000"/>
<circle cx="396.15" cy="343.31" r="1.32" fill="#C00000"/>
<circle cx="397.44" cy="347" r="1.32" fill="#C00000"/>
<circle cx="398.92" cy="347" r="1.32" fill="#C00000"/>
<circle cx="400.4" cy="347" r="1.32" fill="#C00000"/>
<circle cx="401.7" cy="347" r="1.32" fill="#C00000"/>
<circle cx="408.54" cy="347" r="1.32" fill="#C00000"/>
<circle cx="404.84" cy="354.38" r="1.32" fill="#C00000"/>
<circle cx="418.35" cy="354.38" r="1.32" fill="#C00000"/>
<circle cx="428.89" cy="354.38" r="1.32" fill="#C00000"/>
<circle cx="416.13" cy="358.08" r="1.32" fill="#C00000"/>
<circle cx="416.5" cy="358.08" r="1.32" fill="#C00000"/>
<circle cx="426.67" cy="361.77" r="1.32" fill="#C00000"/>
<circle cx="427.6" cy="361.77" r="1.32" fill="#C00000"/>
<circle cx="432.59" cy="361.77" r="1.32" fill="#C00000"/>
<circle cx="432.96" cy="361.77" r="1.32" fill="#C00000"/>
<circle cx="437.96" cy="361.77" r="1.32" fill="#C00000"/>
<circle cx="438.14" cy="361.77" r="1.32" fill="#C00000"/>
<circle cx="441.66" cy="365.46" r="1.32" fill="#C00000"/>
<circle cx="386.34" cy="321.15" r="1.32" fill="#000000"/>
<circle cx="388.19" cy="347" r="1.32" fill="#000000"/>
<circle cx="400.59" cy="372.85" r="1.32" fill="#000000"/>
<circle cx="408.36" cy="380.23" r="1.32" fill="#000000"/>
<g clip-path="url(#c8kR)">
<line x1="336.95" y1="299.37" x2="385.05" y2="325.81" stroke="#7030A0" stroke-width="0.8"/>
<line x1="336.95" y1="308.01" x2="378.2" y2="323.37" stroke="#00B050" stroke-width="0.8"/>
<line x1="341.94" y1="315.39" x2="371.54" y2="324.11" stroke="#808080" stroke-width="0.7"/>
<line x1="365.25" y1="353.65" x2="398.74" y2="380.23" stroke="#FF33CC" stroke-width="0.8"/>
<line x1="381.9" y1="338.88" x2="441.84" y2="365.24" stroke="#C00000" stroke-width="0.8"/>
<line x1="345.64" y1="329.57" x2="395.41" y2="395" stroke="#FF0000" stroke-width="0.8"/>
<line x1="386.9" y1="332.01" x2="408.36" y2="384.51" stroke="#000000" stroke-width="0.8"/>
</g>
<text x="326.8" y="300.98" font-size="5.5" font-weight="bold" fill="#262626" stroke="#262626" stroke-width="0.22" text-anchor="end">-10</text>
<text x="326.8" y="315.75" font-size="5.5" font-weight="bold" fill="#262626" stroke="#262626" stroke-width="0.22" text-anchor="end">10</text>
<text x="326.8" y="330.52" font-size="5.5" font-weight="bold" fill="#262626" stroke="#262626" stroke-width="0.22" text-anchor="end">30</text>
<text x="326.8" y="345.29" font-size="5.5" font-weight="bold" fill="#262626" stroke="#262626" stroke-width="0.22" text-anchor="end">50</text>
<text x="326.8" y="360.06" font-size="5.5" font-weight="bold" fill="#262626" stroke="#262626" stroke-width="0.22" text-anchor="end">70</text>
<text x="326.8" y="374.83" font-size="5.5" font-weight="bold" fill="#262626" stroke="#262626" stroke-width="0.22" text-anchor="end">90</text>
<text x="326.8" y="389.6" font-size="5.5" font-weight="bold" fill="#262626" stroke="#262626" stroke-width="0.22" text-anchor="end">110</text>
<text x="331.4" y="403.98" font-size="5.5" font-weight="bold" fill="#262626" stroke="#262626" stroke-width="0.22" text-anchor="middle">0</text>
<text x="349.9" y="403.98" font-size="5.5" font-weight="bold" fill="#262626" stroke="#262626" stroke-width="0.22" text-anchor="middle">10</text>
<text x="368.4" y="403.98" font-size="5.5" font-weight="bold" fill="#262626" stroke="#262626" stroke-width="0.22" text-anchor="middle">20</text>
<text x="386.9" y="403.98" font-size="5.5" font-weight="bold" fill="#262626" stroke="#262626" stroke-width="0.22" text-anchor="middle">30</text>
<text x="405.4" y="403.98" font-size="5.5" font-weight="bold" fill="#262626" stroke="#262626" stroke-width="0.22" text-anchor="middle">40</text>
<text x="423.9" y="403.98" font-size="5.5" font-weight="bold" fill="#262626" stroke="#262626" stroke-width="0.22" text-anchor="middle">50</text>
<text x="442.4" y="403.98" font-size="5.5" font-weight="bold" fill="#262626" stroke="#262626" stroke-width="0.22" text-anchor="middle">60</text>
<text x="460.9" y="403.98" font-size="5.5" font-weight="bold" fill="#262626" stroke="#262626" stroke-width="0.22" text-anchor="middle">70</text>
<text x="395.1" y="411.85" font-size="4.9" font-weight="bold" fill="#262626" stroke="#262626" stroke-width="0.2" text-anchor="middle">Age (Years)</text>
<text transform="translate(315.18 347.1) rotate(-90)" font-size="4.39" font-weight="bold" fill="#262626" stroke="#262626" stroke-width="0.2" text-anchor="middle">Threshold (dBHL)</text>
<line x1="489.4" y1="304.65" x2="617.4" y2="304.65" stroke="#d9d9d9" stroke-width="0.8"/>
<line x1="489.4" y1="311.99" x2="617.4" y2="311.99" stroke="#d9d9d9" stroke-width="0.8"/>
<line x1="489.4" y1="326.68" x2="617.4" y2="326.68" stroke="#d9d9d9" stroke-width="0.8"/>
<line x1="489.4" y1="341.38" x2="617.4" y2="341.38" stroke="#d9d9d9" stroke-width="0.8"/>
<line x1="489.4" y1="356.07" x2="617.4" y2="356.07" stroke="#d9d9d9" stroke-width="0.8"/>
<line x1="489.4" y1="370.76" x2="617.4" y2="370.76" stroke="#d9d9d9" stroke-width="0.8"/>
<line x1="489.4" y1="385.45" x2="617.4" y2="385.45" stroke="#d9d9d9" stroke-width="0.8"/>
<line x1="507.69" y1="297.3" x2="507.69" y2="392.8" stroke="#d9d9d9" stroke-width="0.8"/>
<line x1="525.97" y1="297.3" x2="525.97" y2="392.8" stroke="#d9d9d9" stroke-width="0.8"/>
<line x1="544.26" y1="297.3" x2="544.26" y2="392.8" stroke="#d9d9d9" stroke-width="0.8"/>
<line x1="562.54" y1="297.3" x2="562.54" y2="392.8" stroke="#d9d9d9" stroke-width="0.8"/>
<line x1="580.83" y1="297.3" x2="580.83" y2="392.8" stroke="#d9d9d9" stroke-width="0.8"/>
<line x1="599.11" y1="297.3" x2="599.11" y2="392.8" stroke="#d9d9d9" stroke-width="0.8"/>
<path d="M489.4 297.3H617.4V392.8" fill="none" stroke="#505050" stroke-width="1.1"/>
<line x1="489.4" y1="297.3" x2="489.4" y2="392.8" stroke="#c8c8c8" stroke-width="1"/>
<line x1="488.9" y1="392.8" x2="617.9" y2="392.8" stroke="#505050" stroke-width="1.3"/>
<clipPath id="c8kL"><rect x="489.4" y="297.3" width="128" height="95.5"/></clipPath>
<circle cx="501.47" cy="300.97" r="0.75" fill="#7030A0"/>
<circle cx="502.93" cy="300.97" r="0.75" fill="#7030A0"/>
<circle cx="504.39" cy="300.97" r="0.75" fill="#7030A0"/>
<circle cx="505.86" cy="300.97" r="0.75" fill="#7030A0"/>
<circle cx="509.51" cy="300.97" r="0.75" fill="#7030A0"/>
<circle cx="510.98" cy="300.97" r="0.75" fill="#7030A0"/>
<circle cx="512.44" cy="300.97" r="0.75" fill="#7030A0"/>
<circle cx="513.9" cy="300.97" r="0.75" fill="#7030A0"/>
<circle cx="515.73" cy="300.97" r="0.75" fill="#7030A0"/>
<circle cx="498.36" cy="304.65" r="0.75" fill="#00B050"/>
<circle cx="499.82" cy="304.65" r="0.75" fill="#00B050"/>
<circle cx="501.29" cy="304.65" r="0.75" fill="#00B050"/>
<circle cx="502.75" cy="304.65" r="0.75" fill="#00B050"/>
<circle cx="504.21" cy="304.65" r="0.75" fill="#00B050"/>
<circle cx="505.67" cy="304.65" r="0.75" fill="#00B050"/>
<circle cx="507.14" cy="304.65" r="0.75" fill="#00B050"/>
<circle cx="508.6" cy="304.65" r="0.75" fill="#00B050"/>
<circle cx="510.06" cy="304.65" r="0.75" fill="#7030A0"/>
<circle cx="511.53" cy="304.65" r="0.75" fill="#7030A0"/>
<circle cx="512.99" cy="304.65" r="0.75" fill="#7030A0"/>
<circle cx="514.45" cy="304.65" r="0.75" fill="#7030A0"/>
<circle cx="516.83" cy="304.65" r="0.75" fill="#7030A0"/>
<circle cx="518.84" cy="304.65" r="0.75" fill="#7030A0"/>
<circle cx="499.46" cy="308.32" r="0.75" fill="#808080"/>
<circle cx="500.92" cy="308.32" r="0.75" fill="#808080"/>
<circle cx="503.11" cy="308.32" r="0.75" fill="#808080"/>
<circle cx="505.86" cy="308.32" r="0.75" fill="#808080"/>
<circle cx="507.69" cy="308.32" r="0.75" fill="#808080"/>
<circle cx="502.02" cy="308.32" r="0.75" fill="#00B050"/>
<circle cx="504.58" cy="308.32" r="0.75" fill="#00B050"/>
<circle cx="506.95" cy="308.32" r="0.75" fill="#00B050"/>
<circle cx="509.51" cy="308.32" r="0.75" fill="#00B050"/>
<circle cx="512.26" cy="308.32" r="0.75" fill="#00B050"/>
<circle cx="514.27" cy="308.32" r="0.75" fill="#7030A0"/>
<circle cx="516.46" cy="308.32" r="0.75" fill="#7030A0"/>
<circle cx="519.02" cy="308.32" r="0.75" fill="#7030A0"/>
<circle cx="495.25" cy="311.99" r="0.75" fill="#7030A0"/>
<circle cx="512.62" cy="311.99" r="0.75" fill="#7030A0"/>
<circle cx="515.73" cy="311.99" r="0.75" fill="#7030A0"/>
<circle cx="499.09" cy="311.99" r="0.75" fill="#808080"/>
<circle cx="500.37" cy="311.99" r="0.75" fill="#808080"/>
<circle cx="501.65" cy="311.99" r="0.75" fill="#808080"/>
<circle cx="503.11" cy="311.99" r="0.75" fill="#808080"/>
<circle cx="504.39" cy="311.99" r="0.75" fill="#808080"/>
<circle cx="508.97" cy="311.99" r="0.75" fill="#FF0000"/>
<circle cx="510.06" cy="311.99" r="0.75" fill="#FF0000"/>
<circle cx="525.61" cy="311.99" r="0.75" fill="#00B050"/>
<circle cx="494.7" cy="315.67" r="0.75" fill="#00B050"/>
<circle cx="500.19" cy="315.67" r="0.75" fill="#808080"/>
<circle cx="503.3" cy="315.67" r="0.75" fill="#808080"/>
<circle cx="513.17" cy="315.67" r="0.75" fill="#808080"/>
<circle cx="514.45" cy="315.67" r="0.75" fill="#808080"/>
<circle cx="515.73" cy="315.67" r="0.75" fill="#808080"/>
<circle cx="507.69" cy="315.67" r="0.75" fill="#FF0000"/>
<circle cx="498.36" cy="319.34" r="0.75" fill="#00B050"/>
<circle cx="504.03" cy="319.34" r="0.75" fill="#FF0000"/>
<circle cx="529.99" cy="323.01" r="0.75" fill="#808080"/>
<circle cx="523.78" cy="326.68" r="0.75" fill="#FF0000"/>
<circle cx="546.09" cy="330.36" r="0.75" fill="#FF0000"/>
<circle cx="533.65" cy="334.03" r="0.75" fill="#7030A0"/>
<circle cx="542.43" cy="337.7" r="0.75" fill="#7030A0"/>
<circle cx="542.25" cy="336.97" r="0.75" fill="#4472C4"/>
<circle cx="540.6" cy="341.38" r="0.75" fill="#FF0000"/>
<circle cx="540.05" cy="341.38" r="0.75" fill="#FF0000"/>
<circle cx="526.7" cy="345.05" r="1.7" fill="#FF33CC"/>
<circle cx="523.05" cy="352.4" r="1.7" fill="#FF33CC"/>
<circle cx="534.75" cy="352.4" r="1.7" fill="#FF33CC"/>
<circle cx="545.54" cy="363.42" r="1.7" fill="#FF33CC"/>
<circle cx="543.71" cy="367.09" r="1.7" fill="#FF33CC"/>
<circle cx="556.87" cy="374.43" r="1.7" fill="#FF33CC"/>
<circle cx="531.09" cy="366.35" r="0.75" fill="#FF0000"/>
<circle cx="533.29" cy="370.03" r="0.75" fill="#FF0000"/>
<circle cx="534.75" cy="377.74" r="0.75" fill="#FF0000"/>
<circle cx="542.25" cy="377.74" r="0.75" fill="#FF0000"/>
<circle cx="549.56" cy="377.74" r="0.75" fill="#FF0000"/>
<circle cx="536.94" cy="381.41" r="0.75" fill="#FF0000"/>
<circle cx="538.41" cy="381.41" r="0.75" fill="#FF0000"/>
<circle cx="540.05" cy="381.41" r="0.75" fill="#FF0000"/>
<circle cx="546.63" cy="381.41" r="0.75" fill="#FF0000"/>
<circle cx="536.21" cy="385.01" r="0.75" fill="#FF0000"/>
<circle cx="548.1" cy="385.01" r="0.75" fill="#FF0000"/>
<circle cx="559.8" cy="374.14" r="0.75" fill="#FF0000"/>
<circle cx="543.71" cy="347.25" r="0.75" fill="#000000"/>
<circle cx="549.56" cy="352.4" r="0.75" fill="#000000"/>
<circle cx="547.37" cy="340.94" r="0.75" fill="#C00000"/>
<circle cx="553.22" cy="340.94" r="0.75" fill="#C00000"/>
<circle cx="554.68" cy="348.21" r="0.75" fill="#C00000"/>
<circle cx="556.87" cy="352.4" r="0.75" fill="#C00000"/>
<circle cx="562.91" cy="352.4" r="0.75" fill="#C00000"/>
<circle cx="566.57" cy="352.4" r="0.75" fill="#C00000"/>
<circle cx="575.34" cy="356.07" r="0.75" fill="#C00000"/>
<circle cx="573.15" cy="363.2" r="0.75" fill="#C00000"/>
<circle cx="584.3" cy="366.79" r="0.75" fill="#C00000"/>
<circle cx="586.31" cy="374.14" r="0.75" fill="#C00000"/>
<circle cx="590.89" cy="374.14" r="0.75" fill="#C00000"/>
<circle cx="596.01" cy="374.14" r="0.75" fill="#C00000"/>
<circle cx="599.66" cy="378.11" r="0.75" fill="#C00000"/>
<g clip-path="url(#c8kL)">
<line x1="497.81" y1="297.15" x2="542.98" y2="325.88" stroke="#7030A0" stroke-width="0.8"/>
<line x1="495.25" y1="307.07" x2="526.34" y2="304.65" stroke="#00B050" stroke-width="0.8"/>
<line x1="499.09" y1="311.4" x2="529.99" y2="314.49" stroke="#808080" stroke-width="0.6"/>
<line x1="523.05" y1="346.52" x2="557.61" y2="374.43" stroke="#FF33CC" stroke-width="0.8"/>
<line x1="540.6" y1="334.77" x2="600.39" y2="379.21" stroke="#C00000" stroke-width="0.8"/>
<line x1="504.03" y1="318.82" x2="554.68" y2="392.29" stroke="#FF0000" stroke-width="0.9"/>
<line x1="543.71" y1="347.18" x2="566.2" y2="377.74" stroke="#000000" stroke-width="0.8"/>
</g>
<text x="484.8" y="299.28" font-size="5.5" font-weight="bold" fill="#262626" stroke="#262626" stroke-width="0.22" text-anchor="end">-10</text>
<text x="484.8" y="313.97" font-size="5.5" font-weight="bold" fill="#262626" stroke="#262626" stroke-width="0.22" text-anchor="end">10</text>
<text x="484.8" y="328.66" font-size="5.5" font-weight="bold" fill="#262626" stroke="#262626" stroke-width="0.22" text-anchor="end">30</text>
<text x="484.8" y="343.36" font-size="5.5" font-weight="bold" fill="#262626" stroke="#262626" stroke-width="0.22" text-anchor="end">50</text>
<text x="484.8" y="358.05" font-size="5.5" font-weight="bold" fill="#262626" stroke="#262626" stroke-width="0.22" text-anchor="end">70</text>
<text x="484.8" y="372.74" font-size="5.5" font-weight="bold" fill="#262626" stroke="#262626" stroke-width="0.22" text-anchor="end">90</text>
<text x="484.8" y="387.43" font-size="5.5" font-weight="bold" fill="#262626" stroke="#262626" stroke-width="0.22" text-anchor="end">110</text>
<text x="489.4" y="401.98" font-size="5.5" font-weight="bold" fill="#262626" stroke="#262626" stroke-width="0.22" text-anchor="middle">0</text>
<text x="507.69" y="401.98" font-size="5.5" font-weight="bold" fill="#262626" stroke="#262626" stroke-width="0.22" text-anchor="middle">10</text>
<text x="525.97" y="401.98" font-size="5.5" font-weight="bold" fill="#262626" stroke="#262626" stroke-width="0.22" text-anchor="middle">20</text>
<text x="544.26" y="401.98" font-size="5.5" font-weight="bold" fill="#262626" stroke="#262626" stroke-width="0.22" text-anchor="middle">30</text>
<text x="562.54" y="401.98" font-size="5.5" font-weight="bold" fill="#262626" stroke="#262626" stroke-width="0.22" text-anchor="middle">40</text>
<text x="580.83" y="401.98" font-size="5.5" font-weight="bold" fill="#262626" stroke="#262626" stroke-width="0.22" text-anchor="middle">50</text>
<text x="599.11" y="401.98" font-size="5.5" font-weight="bold" fill="#262626" stroke="#262626" stroke-width="0.22" text-anchor="middle">60</text>
<text x="617.4" y="401.98" font-size="5.5" font-weight="bold" fill="#262626" stroke="#262626" stroke-width="0.22" text-anchor="middle">70</text>
<text x="550.2" y="410.15" font-size="4.9" font-weight="bold" fill="#262626" stroke="#262626" stroke-width="0.2" text-anchor="middle">Age (Years)</text>
<text transform="translate(472.62 345.3) rotate(-90)" font-size="4.49" font-weight="bold" fill="#262626" stroke="#262626" stroke-width="0.2" text-anchor="middle">Threshold (dBHL)</text>
<text transform="translate(160 10.7) scale(1 1.0)" font-size="12.6" font-weight="bold" fill="#000" stroke="#000" stroke-width="0.3" text-anchor="middle">250 Hz</text>
<text transform="translate(159.4 159.6) scale(1 1.0)" font-size="12.6" font-weight="bold" fill="#000" stroke="#000" stroke-width="0.3" text-anchor="middle">500 Hz</text>
<text transform="translate(160.2 292.4) scale(1 1.0)" font-size="12.6" font-weight="bold" fill="#000" stroke="#000" stroke-width="0.3" text-anchor="middle">1000 Hz</text>
<text transform="translate(476.9 12) scale(1 1.0)" font-size="12.6" font-weight="bold" fill="#000" stroke="#000" stroke-width="0.3" text-anchor="middle">2000 Hz</text>
<text transform="translate(473.8 156.9) scale(1 1.0)" font-size="12.6" font-weight="bold" fill="#000" stroke="#000" stroke-width="0.3" text-anchor="middle">4000 Hz</text>
<text transform="translate(473 290.5) scale(1 1.0)" font-size="12.6" font-weight="bold" fill="#000" stroke="#000" stroke-width="0.3" text-anchor="middle">8000 Hz</text>
<text transform="translate(81.8 24.5) scale(1 1.08)" font-size="9.8" font-weight="bold" fill="#000" stroke="#000" stroke-width="0.3" text-anchor="middle">Right</text>
<text transform="translate(233.2 22.6) scale(1 1.08)" font-size="9.8" font-weight="bold" fill="#000" stroke="#000" stroke-width="0.3" text-anchor="middle">Left</text>
<text transform="translate(384.2 25) scale(1 1.08)" font-size="9.8" font-weight="bold" fill="#000" stroke="#000" stroke-width="0.3" text-anchor="middle">Right</text>
<text transform="translate(546 25.7) scale(1 1.08)" font-size="9.8" font-weight="bold" fill="#000" stroke="#000" stroke-width="0.3" text-anchor="middle">Left</text>
<line x1="550.5" y1="160.5" x2="555.7" y2="160.5" stroke="#404040" stroke-width="1"/>
<circle cx="647.1" cy="254.7" r="3.3" fill="#7030A0"/>
<text transform="translate(657.2 259.5) scale(1 1.13)" font-size="11.3" font-weight="bold" fill="#000" stroke="#000" stroke-width="0.35">VII-2</text>
<circle cx="647.1" cy="272.5" r="3.3" fill="#00B050"/>
<text transform="translate(657.2 277.3) scale(1 1.13)" font-size="11.3" font-weight="bold" fill="#000" stroke="#000" stroke-width="0.35">VII-3</text>
<circle cx="647.1" cy="290.3" r="3.3" fill="#000000"/>
<text transform="translate(657.2 295.1) scale(1 1.13)" font-size="11.3" font-weight="bold" fill="#000" stroke="#000" stroke-width="0.35">VI-1</text>
<circle cx="647.1" cy="308.1" r="3.3" fill="#4472C4"/>
<text transform="translate(657.2 312.9) scale(1 1.13)" font-size="11.3" font-weight="bold" fill="#000" stroke="#000" stroke-width="0.35">VI-4</text>
<circle cx="647.1" cy="325.9" r="3.3" fill="#FF0000"/>
<text transform="translate(657.2 330.7) scale(1 1.13)" font-size="11.3" font-weight="bold" fill="#000" stroke="#000" stroke-width="0.35">VI-9</text>
<circle cx="647.1" cy="343.7" r="3.3" fill="#FF33CC"/>
<text transform="translate(657.2 348.5) scale(1 1.13)" font-size="11.3" font-weight="bold" fill="#000" stroke="#000" stroke-width="0.35">VI-14</text>
<circle cx="647.1" cy="361.5" r="3.3" fill="#808080"/>
<text transform="translate(657.2 366.3) scale(1 1.13)" font-size="11.3" font-weight="bold" fill="#000" stroke="#000" stroke-width="0.35">VI-21</text>
<circle cx="647.1" cy="379.3" r="3.3" fill="#C00000"/>
<text transform="translate(657.2 384.1) scale(1 1.13)" font-size="11.3" font-weight="bold" fill="#000" stroke="#000" stroke-width="0.35">V-1</text>
</svg></body></html>
